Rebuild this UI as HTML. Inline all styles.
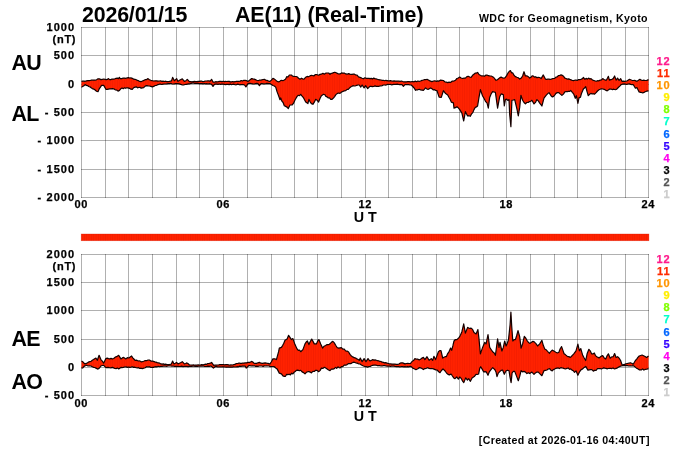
<!DOCTYPE html>
<html lang="en">
<head>
<meta charset="utf-8">
<title>AE(11) (Real-Time) 2026/01/15</title>
<style>
html,body{margin:0;padding:0;background:#fff;}
body{width:700px;height:450px;overflow:hidden;}
svg{display:block;}
text{font-family:"Liberation Sans",Arial,Helvetica,sans-serif;font-weight:bold;fill:#000;}
.big{font-size:21.4px;}
.lab{letter-spacing:-0.8px;}
.ax{font-size:11px;letter-spacing:0.9px;stroke:#000;stroke-width:0.25px;}
.ay{font-size:11px;letter-spacing:1.1px;stroke:#000;stroke-width:0.25px;}
.nt{font-size:11px;letter-spacing:0.7px;stroke:#000;stroke-width:0.25px;}
.sm{font-size:10.6px;letter-spacing:0.42px;}
.ut{font-size:14.3px;}
.g{stroke:#000;stroke-opacity:0.31;stroke-width:1;shape-rendering:crispEdges;fill:none;}
.f{fill:#ff2200;stroke:none;}
.c{fill:none;stroke:#140000;stroke-width:1.2;stroke-linejoin:round;}
</style>
</head>
<body>
<svg width="700" height="450" viewBox="0 0 700 450">
<defs><pattern id="st" patternUnits="userSpaceOnUse" x="81.5" y="0" width="2.3625" height="450"><rect x="0" y="0" width="0.7" height="450" fill="#a00000" fill-opacity="0.13"/></pattern></defs>
<rect width="700" height="450" fill="#fff"/>

<path class="g" d="M81.5 27 V198M105.5 27 V198M128.5 27 V198M152.5 27 V198M176.5 27 V198M199.5 27 V198M223.5 27 V198M247.5 27 V198M271.5 27 V198M294.5 27 V198M317.5 27 V198M341.5 27 V198M365.5 27 V198M388.5 27 V198M412.5 27 V198M436.5 27 V198M459.5 27 V198M483.5 27 V198M506.5 27 V198M530.5 27 V198M554.5 27 V198M577.5 27 V198M601.5 27 V198M625.5 27 V198M648.5 27 V198"/>
<path class="g" d="M81 27.5 H649M81 55.5 H649M81 84.5 H649M81 112.5 H649M81 140.5 H649M81 169.5 H649M81 197.5 H649"/>
<path class="g" d="M81.5 254 V396M105.5 254 V396M128.5 254 V396M152.5 254 V396M176.5 254 V396M199.5 254 V396M223.5 254 V396M247.5 254 V396M271.5 254 V396M294.5 254 V396M317.5 254 V396M341.5 254 V396M365.5 254 V396M388.5 254 V396M412.5 254 V396M436.5 254 V396M459.5 254 V396M483.5 254 V396M506.5 254 V396M530.5 254 V396M554.5 254 V396M577.5 254 V396M601.5 254 V396M625.5 254 V396M648.5 254 V396"/>
<path class="g" d="M81 254.5 H649M81 282.5 H649M81 310.5 H649M81 339.5 H649M81 367.5 H649M81 395.5 H649"/>
<path class="f" d="M81.5 81.4 L82.8 81.2 L84 81.2 L85.2 81.3 L86.5 80.8 L87.8 80.7 L89 80.6 L90.3 80.5 L91.5 80 L92.8 80.2 L94.1 80.1 L95.3 80.2 L96.6 79.7 L98 78.8 L99.4 78.9 L101 79.6 L102.4 79.3 L103.7 79 L105.1 79.3 L106.2 79.6 L107.4 79.4 L108.5 78.6 L109.7 79.6 L110.8 79.6 L112 79 L113.3 79.1 L114.6 79 L116 78.3 L117.3 78.1 L118.6 78.6 L119.4 77.3 L120.3 78.7 L121.7 78.6 L123.2 78 L124.6 78.1 L126 78.3 L127.2 77.9 L128.4 77.6 L129.7 78 L130.9 77.9 L132.3 78.3 L133.6 79.2 L135 79.3 L136.2 79.8 L137.4 80.4 L138.5 80.7 L139.7 81.4 L140.9 81.7 L142.4 81 L144 80.4 L145.3 79.6 L146.7 79.6 L148 78.6 L149.4 79.8 L150.9 80.3 L152.3 80.7 L153.7 81 L155.2 80.8 L156.6 80.8 L158 81.1 L159.3 81 L160.5 80.9 L161.8 81.4 L163.1 81.2 L164.3 81.5 L165.6 81.2 L166.9 81.6 L168.1 81.6 L169.4 81.4 L171.5 80.9 L172.6 77.4 L174.4 80.7 L176.6 78.6 L178 81.4 L179.4 80.2 L180.9 79.5 L182.3 78.9 L184.4 81.4 L185.9 80.7 L187.3 79.3 L189.4 81.7 L190.7 81.6 L191.9 81.9 L193.2 81.5 L194.4 81.3 L195.7 81.6 L196.9 81.6 L198.2 81.3 L199.4 81.4 L200.6 81.1 L201.8 81.2 L203 81.6 L204.2 81.4 L205.3 81 L206.5 81 L207.7 80.9 L208.9 80.9 L210.1 81.1 L211.6 79.3 L213 82.1 L214.3 82.2 L215.6 81.7 L216.9 81.8 L218.3 81.6 L219.6 81.3 L220.9 81.4 L222.1 81.6 L223.3 81.2 L224.4 81.6 L225.6 81.3 L226.8 81.5 L228 81.4 L229.2 81.4 L230.4 81.9 L231.6 81.8 L232.7 81.5 L233.9 81.9 L235.1 81.7 L236.3 81.3 L237.6 81.3 L238.8 81.4 L240.1 81.1 L241.3 80.5 L242.6 81 L243.8 80.3 L245.1 80.3 L246.6 80.7 L248 81.4 L249.2 80.6 L250.4 79.4 L251.6 78.6 L252.9 78.9 L254.2 79.1 L255.4 79.6 L256.7 80.3 L258 80.7 L259.3 80.2 L260.6 80.2 L261.8 79.8 L263.1 79.5 L264.4 79.3 L265.6 80.1 L266.9 80.3 L268.1 80.9 L269.4 81.4 L270 81.4 L271.4 80.1 L272.9 78.3 L274.3 79 L275.7 80.1 L277.1 81.4 L278.3 81.8 L279.4 81.6 L280.6 80.6 L281.7 80.3 L282.9 80.7 L284.2 80 L285.5 79.2 L286.7 76.7 L288 77 L289.3 75 L291.4 75 L292.6 76.2 L293.8 76.3 L295 76.5 L296.2 76.5 L297.4 77 L298.6 78.3 L300 79.2 L301.5 78.2 L302.9 79.1 L304.3 78.9 L305.7 77.2 L307.1 76.4 L308.3 76.8 L309.4 76.3 L310.6 75.6 L311.7 75.3 L312.9 75.7 L314.1 75.9 L315.3 74.5 L316.4 74.5 L317.6 74.9 L318.8 75.2 L320 74.3 L321.4 74.2 L322.9 73.3 L324.3 74.2 L325.7 73.1 L327.1 73 L328.6 73 L330 74.3 L331.2 73.3 L332.4 73.1 L333.6 72.6 L334.9 72.2 L336.1 72.7 L337.4 73.4 L338.6 74 L340 73.9 L341.5 72.9 L342.9 73.1 L344.3 73.1 L345.7 73.9 L347.2 74.2 L348.6 73.6 L349.8 74.1 L351 74.3 L352.1 74.4 L353.3 74.1 L354.5 74.2 L355.7 75 L357.1 75.2 L358.5 76.9 L360 77.4 L361.4 77.9 L362 78.3 L363.4 78.8 L364.9 77.8 L366.3 78.4 L367.7 78.3 L368.9 78.3 L370.1 78.6 L371.3 78.3 L372.5 79 L373.7 78.1 L374.9 78.6 L376.1 78.9 L377.3 79.3 L378.5 79.7 L379.8 79.8 L381 80 L382.2 80.3 L383.4 80.3 L384.6 80.7 L385.8 80.3 L387 80.6 L388.2 80.9 L389.4 80.9 L390.5 80.6 L391.7 81 L392.9 81.1 L394.1 80.9 L395.3 81.1 L396.5 81 L397.7 81.1 L398.9 81.2 L400.2 81.3 L401.4 81 L402.7 81.5 L403.9 81.8 L405.2 81.8 L406.4 81.8 L407.7 81.7 L409 81.6 L410.2 81.8 L411.5 81.7 L412.8 81.5 L414 81.8 L415.3 81.1 L416.6 81.7 L417.8 81 L419.1 81.4 L420.5 81 L422 80.4 L423.4 80 L424.6 79.5 L425.8 79.7 L427 79.3 L428.2 79.9 L429.4 80.6 L430.6 81.1 L432 81.6 L433.5 81 L434.9 80.8 L436.3 81.4 L437.7 80.9 L439.1 81.1 L440.6 80.1 L442 80.3 L443.4 80.5 L444.9 81.9 L446.3 82.2 L447.7 82.6 L449.1 82.1 L450.5 82.5 L452 81.2 L453.4 81.1 L454 81 L455.4 80.3 L456.9 78.5 L458.3 78 L459.7 77.1 L461.1 78 L462.6 78.5 L464 78.1 L465.4 78.2 L466.9 76.7 L468.3 76.3 L469.7 77 L471.1 77.4 L472.6 75.3 L473.9 74.2 L475.1 73.2 L476.4 73.1 L477.6 72.4 L479 74.5 L480.4 75.3 L481.7 76 L483 75.8 L484.4 76.3 L485.7 75.2 L487 75 L488.3 75.7 L489.7 75.9 L491.2 76 L492.6 76.7 L493.8 77.5 L494.9 79 L496.1 80.3 L497.4 79.7 L498.6 78.7 L499.9 77.6 L501.1 77.1 L502.5 77.8 L504 78.2 L505.4 77.4 L506.6 75.6 L507.9 73.2 L509.1 71.5 L510.4 70.6 L511.6 72.8 L512.8 72.9 L514 75.3 L515.4 76.6 L516.9 77.3 L518.3 77.8 L519.7 79.1 L521.2 78.1 L522.6 76 L524 71.7 L525.4 76 L526.8 75.8 L528.3 76.7 L529.7 78.1 L530.9 77.3 L532.1 75.8 L533.3 76 L534.5 77.2 L535.7 76.7 L536.9 77.7 L538.3 77.4 L539.7 77.5 L541.1 78.6 L543.3 74.9 L545.4 79.1 L546.6 79.3 L547.8 79.1 L549 79.2 L550 79.3 L551.2 79.1 L552.4 78.7 L553.5 78.5 L554.7 78.3 L555.9 77.1 L557.2 76.8 L558.5 75.5 L559.8 75.4 L561.1 74.9 L562.4 75.4 L563.6 76.3 L564.9 78.1 L566.1 78.5 L567.4 79.2 L568.6 78.9 L569.8 79.4 L571.1 79.9 L572.3 80.5 L573.5 80.6 L574.8 80.2 L576 80.2 L577.2 80.4 L578.5 79.6 L579.7 79.6 L580.9 79.4 L582.2 78.8 L583.4 77.5 L584.9 79.3 L586.1 78.4 L587.4 79.1 L588.6 78.1 L589.8 79 L591 78.6 L592.2 79.7 L593.4 80.4 L594.6 80.8 L596.1 81.3 L597.5 80.7 L599 80.8 L600.2 80.1 L601.5 79.8 L602.7 78.6 L604 79.4 L605.2 80.1 L606.5 80.1 L608.4 76.3 L609.4 80.1 L610.7 79.6 L611.9 79.3 L613.2 78.6 L614.6 76 L616.1 80.1 L617.6 78.1 L619.1 80.5 L620.6 78.6 L622.1 81.5 L623.4 81.1 L624.7 81.3 L626 81.2 L627.3 80.8 L629.5 79.3 L630.7 79.8 L632 80.3 L633.2 80.5 L634.7 80.3 L636.2 81.1 L637.7 80.8 L639.9 79.3 L641.2 80.2 L642.5 80.5 L643.8 80.2 L645.1 80.5 L646.8 80.4 L648.5 79.6 L648.5 90.9 L646.6 91.2 L645.1 91.8 L643.6 92.7 L642.1 92.8 L640.6 92.3 L639.1 91.9 L636.9 87.5 L635.4 88.2 L633.2 84.5 L631.9 84.7 L630.7 84.4 L629.4 83.9 L628.1 84 L626.8 84.3 L625.6 84.1 L624.3 83.8 L622.8 84.1 L621.3 84.5 L619.8 86.1 L618.3 87.5 L616.8 89.1 L615.4 89.7 L613.9 89.2 L612.4 89.6 L610.9 89 L609.7 89.1 L608.4 89.9 L607.2 90.9 L605.7 90.3 L604.2 89.3 L602.7 89 L601.5 88.8 L600.2 89.3 L599 89.7 L597.5 91 L596.1 92.7 L594.6 94.2 L593.4 93.7 L592.1 94 L590.9 93.4 L589.6 94.3 L588.3 95.7 L587.1 91.9 L585.7 86.7 L584.5 88 L583.4 89 L581.5 93.4 L580.5 97.1 L579 97.9 L577.9 103.4 L576.4 95.7 L575.3 98.3 L573.8 94.2 L572.3 92.4 L570.8 90.5 L569.6 91.4 L568.4 91.3 L567.3 91.6 L566.1 91.5 L564.9 91.9 L563.4 94.1 L561.9 95.4 L560.4 94.1 L558.9 92.7 L557.4 92.6 L555.9 93.4 L554.7 95.1 L553.6 96.4 L552.4 97 L551 95.7 L549 92.6 L547.5 93.9 L546.1 95.3 L544 98.1 L541.9 106 L539.7 103.1 L538.3 100.9 L536.9 99.6 L535.5 102.4 L534 103.9 L531.9 100.3 L530.7 101.2 L529.5 101.6 L528.3 102.4 L526.8 102.5 L525.4 103.9 L524 102.5 L522.6 100.3 L520.9 95.3 L519.7 107.4 L518.3 116 L516.9 108.9 L514.7 99.6 L513.3 100 L511.9 100.3 L510.9 126.7 L509.7 114.6 L509 99.6 L507.8 100.4 L506.6 99.1 L505.4 99.6 L504.3 106 L503.3 94.6 L501.1 93.9 L499.7 96.7 L497.6 108.1 L495.4 92.4 L494 92 L492.6 91.7 L491.1 94 L489.7 97.4 L488.3 108.1 L487.1 103.1 L485.7 101.7 L484.1 98.5 L482.6 96 L480.4 89.6 L479 97.4 L477.6 106 L476.4 106.9 L475.2 107.5 L474 109.6 L472.8 112.6 L471.6 113.8 L470.4 116.3 L469 115.7 L467.6 116 L465.4 111.7 L463.7 121 L461.9 113.1 L459.7 109.6 L458.3 107.9 L456.9 106.7 L455.4 107.7 L454 108.1 L453.4 102.9 L451.3 102.1 L450.1 99.2 L448.9 97.3 L447.7 95 L445.6 93.6 L443.4 90.7 L441.3 97.4 L439.1 97.1 L437 90.7 L435.8 90.5 L434.6 89.7 L433.4 90 L432 88.8 L430.6 87.9 L428.4 89.3 L427 89.1 L425.6 87.9 L423.4 90.3 L422 90.1 L420.5 89.9 L419.1 89.3 L417.9 89.8 L416.8 89.8 L415.6 90.3 L414.2 88.2 L412.7 86.5 L411.3 85 L410 85 L408.7 84.7 L407.5 84.7 L406.2 84.5 L404.9 84.6 L403.4 86.4 L402 84.6 L400.8 84.5 L399.6 84.6 L398.4 84.5 L397.3 84.1 L396.1 84.4 L394.9 84.3 L393.8 84.4 L392.6 84.6 L391.4 84.8 L390.3 84.4 L389.1 84.5 L388 84.4 L386.8 84.7 L385.7 85.1 L384.5 85 L383.4 85 L382.2 85.6 L381 85.8 L379.9 86 L378.7 86.3 L377.5 86.4 L376.3 86.4 L375 85.9 L373.7 86.5 L372.5 86.6 L371.2 86.3 L369.9 86.4 L367.7 88.6 L365.6 85.7 L364.1 87.9 L362.1 85 L360.7 87.1 L359.3 85 L358 85 L356.7 85.4 L355.5 85.8 L354.2 86 L352.9 85.7 L351.7 86.5 L350.6 87 L349.4 88.2 L348.3 89.3 L347.1 89.3 L345.7 90.7 L344.2 90.9 L342.8 91.5 L341.4 92.1 L340 93.4 L338.5 93 L337.1 93.6 L335.9 94.6 L334.8 96.3 L333.6 97.9 L332.1 99.3 L330.7 99.3 L329.5 97.8 L328.3 98 L327.1 96.9 L325.9 96.4 L324.8 94.7 L323.6 94.3 L321.4 95.7 L320 98.5 L318.6 102.1 L317.1 100.2 L315.7 99.3 L314.3 102.2 L312.9 104.3 L311.4 103.6 L310.1 101.8 L308.9 99.3 L307.9 103.6 L305.7 102.1 L303.6 97.9 L302.1 96.1 L300.7 94.3 L299.5 95.7 L298.3 95.3 L297.1 96.4 L295 100 L293.6 103.2 L292.1 105 L290 105 L288.3 108.6 L287 107.1 L285.7 106.4 L284.3 105.7 L283.1 102.5 L281.9 101.2 L280.7 97.9 L280 99.7 L278.6 95.7 L277.1 91.9 L275.7 87.1 L274.3 86 L272.9 85.5 L271.4 84.5 L270 83.6 L269.4 83.6 L268.2 83.6 L267 83.4 L265.8 83.7 L264.5 83.8 L263.3 83.8 L262.1 83.5 L260.9 83.6 L259.4 85.7 L258 83.6 L256.8 83.3 L255.5 83.6 L254.2 84 L253 84 L251.8 83.7 L250.5 83.3 L249.2 83.3 L248 83.6 L245.9 86.9 L244.5 85 L243.3 84.7 L242.1 84.6 L240.9 84.6 L239.7 84.8 L238.6 84.4 L237.4 84.2 L236.2 84.8 L235 84.6 L233.9 84.2 L232.7 84.3 L231.5 84.7 L230.3 84.1 L229.2 84.6 L228 84.3 L226.8 84.3 L225.5 84.6 L224.3 84.3 L223.1 84.2 L221.8 84.1 L220.6 84.3 L219.3 84 L218.1 84.4 L216.9 84.2 L215.6 84.2 L214.4 84.3 L213 86.4 L211.6 84.3 L210.5 84 L209.3 83.7 L208 84 L206.8 83.7 L205.6 83.9 L204.3 83.5 L203.1 83.9 L201.9 83.6 L200.6 83.6 L199.4 83.6 L198.2 83.4 L197 83.4 L195.9 83.3 L194.7 83.4 L193.5 82.9 L192.3 83.1 L191.1 83.4 L189.8 83.8 L188.6 83.9 L187.4 84.1 L186.2 84.3 L184.9 84.5 L183.7 85 L182.3 84.8 L180.8 84.4 L179.4 83.9 L178 83.6 L176.8 83.5 L175.5 83.7 L174.3 83.9 L173.1 84 L171.9 83.8 L170.6 83.3 L169.4 83.6 L168.1 83.6 L166.9 83.8 L165.6 84 L164.3 84 L163.1 84.1 L161.8 84.5 L160.5 84.2 L159.3 84.2 L158 84.6 L156.6 85.3 L155.2 85.5 L153.7 86.4 L152.3 86.9 L150.9 86.4 L149.4 86 L148 85.9 L146.6 85.7 L145.2 86.1 L143.7 87.6 L142.3 87.9 L141.1 88.2 L139.9 87.3 L138.7 87.5 L137.5 87.8 L136.3 86.8 L135.1 87.1 L133.7 87.7 L132.3 89.3 L130.9 89.2 L129.4 88.3 L128 87.9 L126.8 87.8 L125.6 88.3 L124.5 87.8 L123.3 88.7 L122.1 88 L120.9 88.6 L119.5 90.4 L118 91.1 L116.6 90 L115.2 89.8 L113.7 88.8 L112.3 88.6 L111 88.9 L109.7 88.9 L108.5 89.1 L107.2 89.4 L105.9 89.3 L103.7 85.4 L101.6 85.4 L99.4 88.6 L98 91.7 L96.5 91.2 L95.1 90 L93.7 89.1 L92.3 88.6 L91.1 87.8 L89.9 86.8 L88.7 86.5 L87.5 85.6 L86.3 85.4 L85.1 84.6 L83.9 85.7 L82.7 86.4 L81.5 87.4Z"/>
<path d="M81.5 81.4 L82.8 81.2 L84 81.2 L85.2 81.3 L86.5 80.8 L87.8 80.7 L89 80.6 L90.3 80.5 L91.5 80 L92.8 80.2 L94.1 80.1 L95.3 80.2 L96.6 79.7 L98 78.8 L99.4 78.9 L101 79.6 L102.4 79.3 L103.7 79 L105.1 79.3 L106.2 79.6 L107.4 79.4 L108.5 78.6 L109.7 79.6 L110.8 79.6 L112 79 L113.3 79.1 L114.6 79 L116 78.3 L117.3 78.1 L118.6 78.6 L119.4 77.3 L120.3 78.7 L121.7 78.6 L123.2 78 L124.6 78.1 L126 78.3 L127.2 77.9 L128.4 77.6 L129.7 78 L130.9 77.9 L132.3 78.3 L133.6 79.2 L135 79.3 L136.2 79.8 L137.4 80.4 L138.5 80.7 L139.7 81.4 L140.9 81.7 L142.4 81 L144 80.4 L145.3 79.6 L146.7 79.6 L148 78.6 L149.4 79.8 L150.9 80.3 L152.3 80.7 L153.7 81 L155.2 80.8 L156.6 80.8 L158 81.1 L159.3 81 L160.5 80.9 L161.8 81.4 L163.1 81.2 L164.3 81.5 L165.6 81.2 L166.9 81.6 L168.1 81.6 L169.4 81.4 L171.5 80.9 L172.6 77.4 L174.4 80.7 L176.6 78.6 L178 81.4 L179.4 80.2 L180.9 79.5 L182.3 78.9 L184.4 81.4 L185.9 80.7 L187.3 79.3 L189.4 81.7 L190.7 81.6 L191.9 81.9 L193.2 81.5 L194.4 81.3 L195.7 81.6 L196.9 81.6 L198.2 81.3 L199.4 81.4 L200.6 81.1 L201.8 81.2 L203 81.6 L204.2 81.4 L205.3 81 L206.5 81 L207.7 80.9 L208.9 80.9 L210.1 81.1 L211.6 79.3 L213 82.1 L214.3 82.2 L215.6 81.7 L216.9 81.8 L218.3 81.6 L219.6 81.3 L220.9 81.4 L222.1 81.6 L223.3 81.2 L224.4 81.6 L225.6 81.3 L226.8 81.5 L228 81.4 L229.2 81.4 L230.4 81.9 L231.6 81.8 L232.7 81.5 L233.9 81.9 L235.1 81.7 L236.3 81.3 L237.6 81.3 L238.8 81.4 L240.1 81.1 L241.3 80.5 L242.6 81 L243.8 80.3 L245.1 80.3 L246.6 80.7 L248 81.4 L249.2 80.6 L250.4 79.4 L251.6 78.6 L252.9 78.9 L254.2 79.1 L255.4 79.6 L256.7 80.3 L258 80.7 L259.3 80.2 L260.6 80.2 L261.8 79.8 L263.1 79.5 L264.4 79.3 L265.6 80.1 L266.9 80.3 L268.1 80.9 L269.4 81.4 L270 81.4 L271.4 80.1 L272.9 78.3 L274.3 79 L275.7 80.1 L277.1 81.4 L278.3 81.8 L279.4 81.6 L280.6 80.6 L281.7 80.3 L282.9 80.7 L284.2 80 L285.5 79.2 L286.7 76.7 L288 77 L289.3 75 L291.4 75 L292.6 76.2 L293.8 76.3 L295 76.5 L296.2 76.5 L297.4 77 L298.6 78.3 L300 79.2 L301.5 78.2 L302.9 79.1 L304.3 78.9 L305.7 77.2 L307.1 76.4 L308.3 76.8 L309.4 76.3 L310.6 75.6 L311.7 75.3 L312.9 75.7 L314.1 75.9 L315.3 74.5 L316.4 74.5 L317.6 74.9 L318.8 75.2 L320 74.3 L321.4 74.2 L322.9 73.3 L324.3 74.2 L325.7 73.1 L327.1 73 L328.6 73 L330 74.3 L331.2 73.3 L332.4 73.1 L333.6 72.6 L334.9 72.2 L336.1 72.7 L337.4 73.4 L338.6 74 L340 73.9 L341.5 72.9 L342.9 73.1 L344.3 73.1 L345.7 73.9 L347.2 74.2 L348.6 73.6 L349.8 74.1 L351 74.3 L352.1 74.4 L353.3 74.1 L354.5 74.2 L355.7 75 L357.1 75.2 L358.5 76.9 L360 77.4 L361.4 77.9 L362 78.3 L363.4 78.8 L364.9 77.8 L366.3 78.4 L367.7 78.3 L368.9 78.3 L370.1 78.6 L371.3 78.3 L372.5 79 L373.7 78.1 L374.9 78.6 L376.1 78.9 L377.3 79.3 L378.5 79.7 L379.8 79.8 L381 80 L382.2 80.3 L383.4 80.3 L384.6 80.7 L385.8 80.3 L387 80.6 L388.2 80.9 L389.4 80.9 L390.5 80.6 L391.7 81 L392.9 81.1 L394.1 80.9 L395.3 81.1 L396.5 81 L397.7 81.1 L398.9 81.2 L400.2 81.3 L401.4 81 L402.7 81.5 L403.9 81.8 L405.2 81.8 L406.4 81.8 L407.7 81.7 L409 81.6 L410.2 81.8 L411.5 81.7 L412.8 81.5 L414 81.8 L415.3 81.1 L416.6 81.7 L417.8 81 L419.1 81.4 L420.5 81 L422 80.4 L423.4 80 L424.6 79.5 L425.8 79.7 L427 79.3 L428.2 79.9 L429.4 80.6 L430.6 81.1 L432 81.6 L433.5 81 L434.9 80.8 L436.3 81.4 L437.7 80.9 L439.1 81.1 L440.6 80.1 L442 80.3 L443.4 80.5 L444.9 81.9 L446.3 82.2 L447.7 82.6 L449.1 82.1 L450.5 82.5 L452 81.2 L453.4 81.1 L454 81 L455.4 80.3 L456.9 78.5 L458.3 78 L459.7 77.1 L461.1 78 L462.6 78.5 L464 78.1 L465.4 78.2 L466.9 76.7 L468.3 76.3 L469.7 77 L471.1 77.4 L472.6 75.3 L473.9 74.2 L475.1 73.2 L476.4 73.1 L477.6 72.4 L479 74.5 L480.4 75.3 L481.7 76 L483 75.8 L484.4 76.3 L485.7 75.2 L487 75 L488.3 75.7 L489.7 75.9 L491.2 76 L492.6 76.7 L493.8 77.5 L494.9 79 L496.1 80.3 L497.4 79.7 L498.6 78.7 L499.9 77.6 L501.1 77.1 L502.5 77.8 L504 78.2 L505.4 77.4 L506.6 75.6 L507.9 73.2 L509.1 71.5 L510.4 70.6 L511.6 72.8 L512.8 72.9 L514 75.3 L515.4 76.6 L516.9 77.3 L518.3 77.8 L519.7 79.1 L521.2 78.1 L522.6 76 L524 71.7 L525.4 76 L526.8 75.8 L528.3 76.7 L529.7 78.1 L530.9 77.3 L532.1 75.8 L533.3 76 L534.5 77.2 L535.7 76.7 L536.9 77.7 L538.3 77.4 L539.7 77.5 L541.1 78.6 L543.3 74.9 L545.4 79.1 L546.6 79.3 L547.8 79.1 L549 79.2 L550 79.3 L551.2 79.1 L552.4 78.7 L553.5 78.5 L554.7 78.3 L555.9 77.1 L557.2 76.8 L558.5 75.5 L559.8 75.4 L561.1 74.9 L562.4 75.4 L563.6 76.3 L564.9 78.1 L566.1 78.5 L567.4 79.2 L568.6 78.9 L569.8 79.4 L571.1 79.9 L572.3 80.5 L573.5 80.6 L574.8 80.2 L576 80.2 L577.2 80.4 L578.5 79.6 L579.7 79.6 L580.9 79.4 L582.2 78.8 L583.4 77.5 L584.9 79.3 L586.1 78.4 L587.4 79.1 L588.6 78.1 L589.8 79 L591 78.6 L592.2 79.7 L593.4 80.4 L594.6 80.8 L596.1 81.3 L597.5 80.7 L599 80.8 L600.2 80.1 L601.5 79.8 L602.7 78.6 L604 79.4 L605.2 80.1 L606.5 80.1 L608.4 76.3 L609.4 80.1 L610.7 79.6 L611.9 79.3 L613.2 78.6 L614.6 76 L616.1 80.1 L617.6 78.1 L619.1 80.5 L620.6 78.6 L622.1 81.5 L623.4 81.1 L624.7 81.3 L626 81.2 L627.3 80.8 L629.5 79.3 L630.7 79.8 L632 80.3 L633.2 80.5 L634.7 80.3 L636.2 81.1 L637.7 80.8 L639.9 79.3 L641.2 80.2 L642.5 80.5 L643.8 80.2 L645.1 80.5 L646.8 80.4 L648.5 79.6 L648.5 90.9 L646.6 91.2 L645.1 91.8 L643.6 92.7 L642.1 92.8 L640.6 92.3 L639.1 91.9 L636.9 87.5 L635.4 88.2 L633.2 84.5 L631.9 84.7 L630.7 84.4 L629.4 83.9 L628.1 84 L626.8 84.3 L625.6 84.1 L624.3 83.8 L622.8 84.1 L621.3 84.5 L619.8 86.1 L618.3 87.5 L616.8 89.1 L615.4 89.7 L613.9 89.2 L612.4 89.6 L610.9 89 L609.7 89.1 L608.4 89.9 L607.2 90.9 L605.7 90.3 L604.2 89.3 L602.7 89 L601.5 88.8 L600.2 89.3 L599 89.7 L597.5 91 L596.1 92.7 L594.6 94.2 L593.4 93.7 L592.1 94 L590.9 93.4 L589.6 94.3 L588.3 95.7 L587.1 91.9 L585.7 86.7 L584.5 88 L583.4 89 L581.5 93.4 L580.5 97.1 L579 97.9 L577.9 103.4 L576.4 95.7 L575.3 98.3 L573.8 94.2 L572.3 92.4 L570.8 90.5 L569.6 91.4 L568.4 91.3 L567.3 91.6 L566.1 91.5 L564.9 91.9 L563.4 94.1 L561.9 95.4 L560.4 94.1 L558.9 92.7 L557.4 92.6 L555.9 93.4 L554.7 95.1 L553.6 96.4 L552.4 97 L551 95.7 L549 92.6 L547.5 93.9 L546.1 95.3 L544 98.1 L541.9 106 L539.7 103.1 L538.3 100.9 L536.9 99.6 L535.5 102.4 L534 103.9 L531.9 100.3 L530.7 101.2 L529.5 101.6 L528.3 102.4 L526.8 102.5 L525.4 103.9 L524 102.5 L522.6 100.3 L520.9 95.3 L519.7 107.4 L518.3 116 L516.9 108.9 L514.7 99.6 L513.3 100 L511.9 100.3 L510.9 126.7 L509.7 114.6 L509 99.6 L507.8 100.4 L506.6 99.1 L505.4 99.6 L504.3 106 L503.3 94.6 L501.1 93.9 L499.7 96.7 L497.6 108.1 L495.4 92.4 L494 92 L492.6 91.7 L491.1 94 L489.7 97.4 L488.3 108.1 L487.1 103.1 L485.7 101.7 L484.1 98.5 L482.6 96 L480.4 89.6 L479 97.4 L477.6 106 L476.4 106.9 L475.2 107.5 L474 109.6 L472.8 112.6 L471.6 113.8 L470.4 116.3 L469 115.7 L467.6 116 L465.4 111.7 L463.7 121 L461.9 113.1 L459.7 109.6 L458.3 107.9 L456.9 106.7 L455.4 107.7 L454 108.1 L453.4 102.9 L451.3 102.1 L450.1 99.2 L448.9 97.3 L447.7 95 L445.6 93.6 L443.4 90.7 L441.3 97.4 L439.1 97.1 L437 90.7 L435.8 90.5 L434.6 89.7 L433.4 90 L432 88.8 L430.6 87.9 L428.4 89.3 L427 89.1 L425.6 87.9 L423.4 90.3 L422 90.1 L420.5 89.9 L419.1 89.3 L417.9 89.8 L416.8 89.8 L415.6 90.3 L414.2 88.2 L412.7 86.5 L411.3 85 L410 85 L408.7 84.7 L407.5 84.7 L406.2 84.5 L404.9 84.6 L403.4 86.4 L402 84.6 L400.8 84.5 L399.6 84.6 L398.4 84.5 L397.3 84.1 L396.1 84.4 L394.9 84.3 L393.8 84.4 L392.6 84.6 L391.4 84.8 L390.3 84.4 L389.1 84.5 L388 84.4 L386.8 84.7 L385.7 85.1 L384.5 85 L383.4 85 L382.2 85.6 L381 85.8 L379.9 86 L378.7 86.3 L377.5 86.4 L376.3 86.4 L375 85.9 L373.7 86.5 L372.5 86.6 L371.2 86.3 L369.9 86.4 L367.7 88.6 L365.6 85.7 L364.1 87.9 L362.1 85 L360.7 87.1 L359.3 85 L358 85 L356.7 85.4 L355.5 85.8 L354.2 86 L352.9 85.7 L351.7 86.5 L350.6 87 L349.4 88.2 L348.3 89.3 L347.1 89.3 L345.7 90.7 L344.2 90.9 L342.8 91.5 L341.4 92.1 L340 93.4 L338.5 93 L337.1 93.6 L335.9 94.6 L334.8 96.3 L333.6 97.9 L332.1 99.3 L330.7 99.3 L329.5 97.8 L328.3 98 L327.1 96.9 L325.9 96.4 L324.8 94.7 L323.6 94.3 L321.4 95.7 L320 98.5 L318.6 102.1 L317.1 100.2 L315.7 99.3 L314.3 102.2 L312.9 104.3 L311.4 103.6 L310.1 101.8 L308.9 99.3 L307.9 103.6 L305.7 102.1 L303.6 97.9 L302.1 96.1 L300.7 94.3 L299.5 95.7 L298.3 95.3 L297.1 96.4 L295 100 L293.6 103.2 L292.1 105 L290 105 L288.3 108.6 L287 107.1 L285.7 106.4 L284.3 105.7 L283.1 102.5 L281.9 101.2 L280.7 97.9 L280 99.7 L278.6 95.7 L277.1 91.9 L275.7 87.1 L274.3 86 L272.9 85.5 L271.4 84.5 L270 83.6 L269.4 83.6 L268.2 83.6 L267 83.4 L265.8 83.7 L264.5 83.8 L263.3 83.8 L262.1 83.5 L260.9 83.6 L259.4 85.7 L258 83.6 L256.8 83.3 L255.5 83.6 L254.2 84 L253 84 L251.8 83.7 L250.5 83.3 L249.2 83.3 L248 83.6 L245.9 86.9 L244.5 85 L243.3 84.7 L242.1 84.6 L240.9 84.6 L239.7 84.8 L238.6 84.4 L237.4 84.2 L236.2 84.8 L235 84.6 L233.9 84.2 L232.7 84.3 L231.5 84.7 L230.3 84.1 L229.2 84.6 L228 84.3 L226.8 84.3 L225.5 84.6 L224.3 84.3 L223.1 84.2 L221.8 84.1 L220.6 84.3 L219.3 84 L218.1 84.4 L216.9 84.2 L215.6 84.2 L214.4 84.3 L213 86.4 L211.6 84.3 L210.5 84 L209.3 83.7 L208 84 L206.8 83.7 L205.6 83.9 L204.3 83.5 L203.1 83.9 L201.9 83.6 L200.6 83.6 L199.4 83.6 L198.2 83.4 L197 83.4 L195.9 83.3 L194.7 83.4 L193.5 82.9 L192.3 83.1 L191.1 83.4 L189.8 83.8 L188.6 83.9 L187.4 84.1 L186.2 84.3 L184.9 84.5 L183.7 85 L182.3 84.8 L180.8 84.4 L179.4 83.9 L178 83.6 L176.8 83.5 L175.5 83.7 L174.3 83.9 L173.1 84 L171.9 83.8 L170.6 83.3 L169.4 83.6 L168.1 83.6 L166.9 83.8 L165.6 84 L164.3 84 L163.1 84.1 L161.8 84.5 L160.5 84.2 L159.3 84.2 L158 84.6 L156.6 85.3 L155.2 85.5 L153.7 86.4 L152.3 86.9 L150.9 86.4 L149.4 86 L148 85.9 L146.6 85.7 L145.2 86.1 L143.7 87.6 L142.3 87.9 L141.1 88.2 L139.9 87.3 L138.7 87.5 L137.5 87.8 L136.3 86.8 L135.1 87.1 L133.7 87.7 L132.3 89.3 L130.9 89.2 L129.4 88.3 L128 87.9 L126.8 87.8 L125.6 88.3 L124.5 87.8 L123.3 88.7 L122.1 88 L120.9 88.6 L119.5 90.4 L118 91.1 L116.6 90 L115.2 89.8 L113.7 88.8 L112.3 88.6 L111 88.9 L109.7 88.9 L108.5 89.1 L107.2 89.4 L105.9 89.3 L103.7 85.4 L101.6 85.4 L99.4 88.6 L98 91.7 L96.5 91.2 L95.1 90 L93.7 89.1 L92.3 88.6 L91.1 87.8 L89.9 86.8 L88.7 86.5 L87.5 85.6 L86.3 85.4 L85.1 84.6 L83.9 85.7 L82.7 86.4 L81.5 87.4Z" fill="url(#st)"/>
<path class="c" d="M81.5 81.4 L82.8 81.2 L84 81.2 L85.2 81.3 L86.5 80.8 L87.8 80.7 L89 80.6 L90.3 80.5 L91.5 80 L92.8 80.2 L94.1 80.1 L95.3 80.2 L96.6 79.7 L98 78.8 L99.4 78.9 L101 79.6 L102.4 79.3 L103.7 79 L105.1 79.3 L106.2 79.6 L107.4 79.4 L108.5 78.6 L109.7 79.6 L110.8 79.6 L112 79 L113.3 79.1 L114.6 79 L116 78.3 L117.3 78.1 L118.6 78.6 L119.4 77.3 L120.3 78.7 L121.7 78.6 L123.2 78 L124.6 78.1 L126 78.3 L127.2 77.9 L128.4 77.6 L129.7 78 L130.9 77.9 L132.3 78.3 L133.6 79.2 L135 79.3 L136.2 79.8 L137.4 80.4 L138.5 80.7 L139.7 81.4 L140.9 81.7 L142.4 81 L144 80.4 L145.3 79.6 L146.7 79.6 L148 78.6 L149.4 79.8 L150.9 80.3 L152.3 80.7 L153.7 81 L155.2 80.8 L156.6 80.8 L158 81.1 L159.3 81 L160.5 80.9 L161.8 81.4 L163.1 81.2 L164.3 81.5 L165.6 81.2 L166.9 81.6 L168.1 81.6 L169.4 81.4 L171.5 80.9 L172.6 77.4 L174.4 80.7 L176.6 78.6 L178 81.4 L179.4 80.2 L180.9 79.5 L182.3 78.9 L184.4 81.4 L185.9 80.7 L187.3 79.3 L189.4 81.7 L190.7 81.6 L191.9 81.9 L193.2 81.5 L194.4 81.3 L195.7 81.6 L196.9 81.6 L198.2 81.3 L199.4 81.4 L200.6 81.1 L201.8 81.2 L203 81.6 L204.2 81.4 L205.3 81 L206.5 81 L207.7 80.9 L208.9 80.9 L210.1 81.1 L211.6 79.3 L213 82.1 L214.3 82.2 L215.6 81.7 L216.9 81.8 L218.3 81.6 L219.6 81.3 L220.9 81.4 L222.1 81.6 L223.3 81.2 L224.4 81.6 L225.6 81.3 L226.8 81.5 L228 81.4 L229.2 81.4 L230.4 81.9 L231.6 81.8 L232.7 81.5 L233.9 81.9 L235.1 81.7 L236.3 81.3 L237.6 81.3 L238.8 81.4 L240.1 81.1 L241.3 80.5 L242.6 81 L243.8 80.3 L245.1 80.3 L246.6 80.7 L248 81.4 L249.2 80.6 L250.4 79.4 L251.6 78.6 L252.9 78.9 L254.2 79.1 L255.4 79.6 L256.7 80.3 L258 80.7 L259.3 80.2 L260.6 80.2 L261.8 79.8 L263.1 79.5 L264.4 79.3 L265.6 80.1 L266.9 80.3 L268.1 80.9 L269.4 81.4 L270 81.4 L271.4 80.1 L272.9 78.3 L274.3 79 L275.7 80.1 L277.1 81.4 L278.3 81.8 L279.4 81.6 L280.6 80.6 L281.7 80.3 L282.9 80.7 L284.2 80 L285.5 79.2 L286.7 76.7 L288 77 L289.3 75 L291.4 75 L292.6 76.2 L293.8 76.3 L295 76.5 L296.2 76.5 L297.4 77 L298.6 78.3 L300 79.2 L301.5 78.2 L302.9 79.1 L304.3 78.9 L305.7 77.2 L307.1 76.4 L308.3 76.8 L309.4 76.3 L310.6 75.6 L311.7 75.3 L312.9 75.7 L314.1 75.9 L315.3 74.5 L316.4 74.5 L317.6 74.9 L318.8 75.2 L320 74.3 L321.4 74.2 L322.9 73.3 L324.3 74.2 L325.7 73.1 L327.1 73 L328.6 73 L330 74.3 L331.2 73.3 L332.4 73.1 L333.6 72.6 L334.9 72.2 L336.1 72.7 L337.4 73.4 L338.6 74 L340 73.9 L341.5 72.9 L342.9 73.1 L344.3 73.1 L345.7 73.9 L347.2 74.2 L348.6 73.6 L349.8 74.1 L351 74.3 L352.1 74.4 L353.3 74.1 L354.5 74.2 L355.7 75 L357.1 75.2 L358.5 76.9 L360 77.4 L361.4 77.9 L362 78.3 L363.4 78.8 L364.9 77.8 L366.3 78.4 L367.7 78.3 L368.9 78.3 L370.1 78.6 L371.3 78.3 L372.5 79 L373.7 78.1 L374.9 78.6 L376.1 78.9 L377.3 79.3 L378.5 79.7 L379.8 79.8 L381 80 L382.2 80.3 L383.4 80.3 L384.6 80.7 L385.8 80.3 L387 80.6 L388.2 80.9 L389.4 80.9 L390.5 80.6 L391.7 81 L392.9 81.1 L394.1 80.9 L395.3 81.1 L396.5 81 L397.7 81.1 L398.9 81.2 L400.2 81.3 L401.4 81 L402.7 81.5 L403.9 81.8 L405.2 81.8 L406.4 81.8 L407.7 81.7 L409 81.6 L410.2 81.8 L411.5 81.7 L412.8 81.5 L414 81.8 L415.3 81.1 L416.6 81.7 L417.8 81 L419.1 81.4 L420.5 81 L422 80.4 L423.4 80 L424.6 79.5 L425.8 79.7 L427 79.3 L428.2 79.9 L429.4 80.6 L430.6 81.1 L432 81.6 L433.5 81 L434.9 80.8 L436.3 81.4 L437.7 80.9 L439.1 81.1 L440.6 80.1 L442 80.3 L443.4 80.5 L444.9 81.9 L446.3 82.2 L447.7 82.6 L449.1 82.1 L450.5 82.5 L452 81.2 L453.4 81.1 L454 81 L455.4 80.3 L456.9 78.5 L458.3 78 L459.7 77.1 L461.1 78 L462.6 78.5 L464 78.1 L465.4 78.2 L466.9 76.7 L468.3 76.3 L469.7 77 L471.1 77.4 L472.6 75.3 L473.9 74.2 L475.1 73.2 L476.4 73.1 L477.6 72.4 L479 74.5 L480.4 75.3 L481.7 76 L483 75.8 L484.4 76.3 L485.7 75.2 L487 75 L488.3 75.7 L489.7 75.9 L491.2 76 L492.6 76.7 L493.8 77.5 L494.9 79 L496.1 80.3 L497.4 79.7 L498.6 78.7 L499.9 77.6 L501.1 77.1 L502.5 77.8 L504 78.2 L505.4 77.4 L506.6 75.6 L507.9 73.2 L509.1 71.5 L510.4 70.6 L511.6 72.8 L512.8 72.9 L514 75.3 L515.4 76.6 L516.9 77.3 L518.3 77.8 L519.7 79.1 L521.2 78.1 L522.6 76 L524 71.7 L525.4 76 L526.8 75.8 L528.3 76.7 L529.7 78.1 L530.9 77.3 L532.1 75.8 L533.3 76 L534.5 77.2 L535.7 76.7 L536.9 77.7 L538.3 77.4 L539.7 77.5 L541.1 78.6 L543.3 74.9 L545.4 79.1 L546.6 79.3 L547.8 79.1 L549 79.2 L550 79.3 L551.2 79.1 L552.4 78.7 L553.5 78.5 L554.7 78.3 L555.9 77.1 L557.2 76.8 L558.5 75.5 L559.8 75.4 L561.1 74.9 L562.4 75.4 L563.6 76.3 L564.9 78.1 L566.1 78.5 L567.4 79.2 L568.6 78.9 L569.8 79.4 L571.1 79.9 L572.3 80.5 L573.5 80.6 L574.8 80.2 L576 80.2 L577.2 80.4 L578.5 79.6 L579.7 79.6 L580.9 79.4 L582.2 78.8 L583.4 77.5 L584.9 79.3 L586.1 78.4 L587.4 79.1 L588.6 78.1 L589.8 79 L591 78.6 L592.2 79.7 L593.4 80.4 L594.6 80.8 L596.1 81.3 L597.5 80.7 L599 80.8 L600.2 80.1 L601.5 79.8 L602.7 78.6 L604 79.4 L605.2 80.1 L606.5 80.1 L608.4 76.3 L609.4 80.1 L610.7 79.6 L611.9 79.3 L613.2 78.6 L614.6 76 L616.1 80.1 L617.6 78.1 L619.1 80.5 L620.6 78.6 L622.1 81.5 L623.4 81.1 L624.7 81.3 L626 81.2 L627.3 80.8 L629.5 79.3 L630.7 79.8 L632 80.3 L633.2 80.5 L634.7 80.3 L636.2 81.1 L637.7 80.8 L639.9 79.3 L641.2 80.2 L642.5 80.5 L643.8 80.2 L645.1 80.5 L646.8 80.4 L648.5 79.6"/>
<path class="c" d="M81.5 87.4 L82.7 86.4 L83.9 85.7 L85.1 84.6 L86.3 85.4 L87.5 85.6 L88.7 86.5 L89.9 86.8 L91.1 87.8 L92.3 88.6 L93.7 89.1 L95.1 90 L96.5 91.2 L98 91.7 L99.4 88.6 L101.6 85.4 L103.7 85.4 L105.9 89.3 L107.2 89.4 L108.5 89.1 L109.7 88.9 L111 88.9 L112.3 88.6 L113.7 88.8 L115.2 89.8 L116.6 90 L118 91.1 L119.5 90.4 L120.9 88.6 L122.1 88 L123.3 88.7 L124.5 87.8 L125.6 88.3 L126.8 87.8 L128 87.9 L129.4 88.3 L130.9 89.2 L132.3 89.3 L133.7 87.7 L135.1 87.1 L136.3 86.8 L137.5 87.8 L138.7 87.5 L139.9 87.3 L141.1 88.2 L142.3 87.9 L143.7 87.6 L145.2 86.1 L146.6 85.7 L148 85.9 L149.4 86 L150.9 86.4 L152.3 86.9 L153.7 86.4 L155.2 85.5 L156.6 85.3 L158 84.6 L159.3 84.2 L160.5 84.2 L161.8 84.5 L163.1 84.1 L164.3 84 L165.6 84 L166.9 83.8 L168.1 83.6 L169.4 83.6 L170.6 83.3 L171.9 83.8 L173.1 84 L174.3 83.9 L175.5 83.7 L176.8 83.5 L178 83.6 L179.4 83.9 L180.8 84.4 L182.3 84.8 L183.7 85 L184.9 84.5 L186.2 84.3 L187.4 84.1 L188.6 83.9 L189.8 83.8 L191.1 83.4 L192.3 83.1 L193.5 82.9 L194.7 83.4 L195.9 83.3 L197 83.4 L198.2 83.4 L199.4 83.6 L200.6 83.6 L201.9 83.6 L203.1 83.9 L204.3 83.5 L205.6 83.9 L206.8 83.7 L208 84 L209.3 83.7 L210.5 84 L211.6 84.3 L213 86.4 L214.4 84.3 L215.6 84.2 L216.9 84.2 L218.1 84.4 L219.3 84 L220.6 84.3 L221.8 84.1 L223.1 84.2 L224.3 84.3 L225.5 84.6 L226.8 84.3 L228 84.3 L229.2 84.6 L230.3 84.1 L231.5 84.7 L232.7 84.3 L233.9 84.2 L235 84.6 L236.2 84.8 L237.4 84.2 L238.6 84.4 L239.7 84.8 L240.9 84.6 L242.1 84.6 L243.3 84.7 L244.5 85 L245.9 86.9 L248 83.6 L249.2 83.3 L250.5 83.3 L251.8 83.7 L253 84 L254.2 84 L255.5 83.6 L256.8 83.3 L258 83.6 L259.4 85.7 L260.9 83.6 L262.1 83.5 L263.3 83.8 L264.5 83.8 L265.8 83.7 L267 83.4 L268.2 83.6 L269.4 83.6 L270 83.6 L271.4 84.5 L272.9 85.5 L274.3 86 L275.7 87.1 L277.1 91.9 L278.6 95.7 L280 99.7 L280.7 97.9 L281.9 101.2 L283.1 102.5 L284.3 105.7 L285.7 106.4 L287 107.1 L288.3 108.6 L290 105 L292.1 105 L293.6 103.2 L295 100 L297.1 96.4 L298.3 95.3 L299.5 95.7 L300.7 94.3 L302.1 96.1 L303.6 97.9 L305.7 102.1 L307.9 103.6 L308.9 99.3 L310.1 101.8 L311.4 103.6 L312.9 104.3 L314.3 102.2 L315.7 99.3 L317.1 100.2 L318.6 102.1 L320 98.5 L321.4 95.7 L323.6 94.3 L324.8 94.7 L325.9 96.4 L327.1 96.9 L328.3 98 L329.5 97.8 L330.7 99.3 L332.1 99.3 L333.6 97.9 L334.8 96.3 L335.9 94.6 L337.1 93.6 L338.5 93 L340 93.4 L341.4 92.1 L342.8 91.5 L344.2 90.9 L345.7 90.7 L347.1 89.3 L348.3 89.3 L349.4 88.2 L350.6 87 L351.7 86.5 L352.9 85.7 L354.2 86 L355.5 85.8 L356.7 85.4 L358 85 L359.3 85 L360.7 87.1 L362.1 85 L364.1 87.9 L365.6 85.7 L367.7 88.6 L369.9 86.4 L371.2 86.3 L372.5 86.6 L373.7 86.5 L375 85.9 L376.3 86.4 L377.5 86.4 L378.7 86.3 L379.9 86 L381 85.8 L382.2 85.6 L383.4 85 L384.5 85 L385.7 85.1 L386.8 84.7 L388 84.4 L389.1 84.5 L390.3 84.4 L391.4 84.8 L392.6 84.6 L393.8 84.4 L394.9 84.3 L396.1 84.4 L397.3 84.1 L398.4 84.5 L399.6 84.6 L400.8 84.5 L402 84.6 L403.4 86.4 L404.9 84.6 L406.2 84.5 L407.5 84.7 L408.7 84.7 L410 85 L411.3 85 L412.7 86.5 L414.2 88.2 L415.6 90.3 L416.8 89.8 L417.9 89.8 L419.1 89.3 L420.5 89.9 L422 90.1 L423.4 90.3 L425.6 87.9 L427 89.1 L428.4 89.3 L430.6 87.9 L432 88.8 L433.4 90 L434.6 89.7 L435.8 90.5 L437 90.7 L439.1 97.1 L441.3 97.4 L443.4 90.7 L445.6 93.6 L447.7 95 L448.9 97.3 L450.1 99.2 L451.3 102.1 L453.4 102.9 L454 108.1 L455.4 107.7 L456.9 106.7 L458.3 107.9 L459.7 109.6 L461.9 113.1 L463.7 121 L465.4 111.7 L467.6 116 L469 115.7 L470.4 116.3 L471.6 113.8 L472.8 112.6 L474 109.6 L475.2 107.5 L476.4 106.9 L477.6 106 L479 97.4 L480.4 89.6 L482.6 96 L484.1 98.5 L485.7 101.7 L487.1 103.1 L488.3 108.1 L489.7 97.4 L491.1 94 L492.6 91.7 L494 92 L495.4 92.4 L497.6 108.1 L499.7 96.7 L501.1 93.9 L503.3 94.6 L504.3 106 L505.4 99.6 L506.6 99.1 L507.8 100.4 L509 99.6 L509.7 114.6 L510.9 126.7 L511.9 100.3 L513.3 100 L514.7 99.6 L516.9 108.9 L518.3 116 L519.7 107.4 L520.9 95.3 L522.6 100.3 L524 102.5 L525.4 103.9 L526.8 102.5 L528.3 102.4 L529.5 101.6 L530.7 101.2 L531.9 100.3 L534 103.9 L535.5 102.4 L536.9 99.6 L538.3 100.9 L539.7 103.1 L541.9 106 L544 98.1 L546.1 95.3 L547.5 93.9 L549 92.6 L551 95.7 L552.4 97 L553.6 96.4 L554.7 95.1 L555.9 93.4 L557.4 92.6 L558.9 92.7 L560.4 94.1 L561.9 95.4 L563.4 94.1 L564.9 91.9 L566.1 91.5 L567.3 91.6 L568.4 91.3 L569.6 91.4 L570.8 90.5 L572.3 92.4 L573.8 94.2 L575.3 98.3 L576.4 95.7 L577.9 103.4 L579 97.9 L580.5 97.1 L581.5 93.4 L583.4 89 L584.5 88 L585.7 86.7 L587.1 91.9 L588.3 95.7 L589.6 94.3 L590.9 93.4 L592.1 94 L593.4 93.7 L594.6 94.2 L596.1 92.7 L597.5 91 L599 89.7 L600.2 89.3 L601.5 88.8 L602.7 89 L604.2 89.3 L605.7 90.3 L607.2 90.9 L608.4 89.9 L609.7 89.1 L610.9 89 L612.4 89.6 L613.9 89.2 L615.4 89.7 L616.8 89.1 L618.3 87.5 L619.8 86.1 L621.3 84.5 L622.8 84.1 L624.3 83.8 L625.6 84.1 L626.8 84.3 L628.1 84 L629.4 83.9 L630.7 84.4 L631.9 84.7 L633.2 84.5 L635.4 88.2 L636.9 87.5 L639.1 91.9 L640.6 92.3 L642.1 92.8 L643.6 92.7 L645.1 91.8 L646.6 91.2 L648.5 90.9"/>
<path class="f" d="M81.5 361 L82.7 361.7 L83.9 363.1 L85.1 363.9 L86.3 363.4 L87.5 362.7 L88.7 361.9 L89.9 361.7 L91.1 361.2 L92.3 360.3 L93.5 359.6 L94.7 358.8 L95.9 358.1 L97.3 360.3 L99.1 355.3 L100.9 359.6 L102.3 361.2 L103.7 363.1 L105.9 358.6 L107.2 358.1 L108.5 358.6 L109.7 358.9 L111 358.4 L112.3 358.9 L113.7 358.5 L115.2 357.1 L116.6 356.7 L118.7 355.3 L120.9 358.9 L122.3 357.9 L123.7 357.4 L125.9 358.9 L127.3 357.7 L128.8 358 L130.2 357 L131.6 356 L132.8 357.8 L133.9 359 L135.1 360.3 L136.3 360.1 L137.5 360.6 L138.7 361 L139.9 360.9 L141.1 361.9 L142.3 361.7 L143.7 361.2 L145.2 360.5 L146.6 360.7 L148 360 L149.4 360 L150.9 361.1 L152.3 361 L153.5 361.4 L154.8 361.9 L156 362.1 L157.2 362.6 L158.4 362.9 L159.7 363.2 L160.9 363.9 L162.1 364.2 L163.3 363.9 L164.5 364.4 L165.8 364.1 L167 364.7 L168.2 364.7 L169.4 364.6 L171.4 364 L172.6 361 L174 363.9 L175.3 363.3 L176.6 362.4 L178 363.9 L179.4 363.3 L180.9 362.5 L182.3 361.7 L184.4 363.9 L185.7 363.5 L186.9 362.9 L188.2 363.7 L189.4 365 L190.7 365 L191.9 365.2 L193.2 364.8 L194.4 365.2 L195.7 365.2 L196.9 365 L198.2 364.9 L199.4 365 L200.6 364.9 L201.8 364.7 L203 364.9 L204.2 364.5 L205.4 364.1 L206.6 364.3 L207.8 363.6 L209.1 363.5 L210.3 363.2 L211.6 362.4 L213.7 365.3 L214.9 365.2 L216.1 365.1 L217.3 365 L218.5 365 L219.7 364.6 L220.9 364.6 L222.2 364.7 L223.4 364.7 L224.7 364.8 L226 364.6 L227.2 364.6 L228.5 364.8 L229.8 365.2 L231 364.9 L232.3 365 L233.7 364.7 L235.2 364.1 L236.6 363.5 L238 363.4 L239.2 363 L240.4 363.4 L241.6 363.3 L242.7 363 L243.9 363.1 L245.1 362.9 L246.6 362.8 L248 362.4 L249.2 362.3 L250.4 362.1 L251.6 361.4 L252.8 362 L253.9 363.1 L255.1 363.4 L256.5 363.4 L258 362.8 L259.4 362.4 L260.9 363.2 L262.3 363.4 L263.7 363.1 L265.1 362.9 L266.6 363.2 L268 363.4 L269.5 363.9 L270 363.9 L271.4 361.7 L272.9 358.9 L274.1 358.8 L275.2 358.9 L276.4 359.6 L278.6 351.7 L279.3 348.1 L281.4 347.4 L282.6 345.6 L283.8 343.2 L285 340.3 L287.1 338.9 L288.6 335.3 L290 337.4 L291.4 339.6 L292.9 338.6 L295 344.6 L297.1 348.9 L298.3 350.4 L299.5 350 L300.7 351.7 L302.9 349.6 L305 343.9 L306.2 342 L307.4 341 L308.9 344.6 L310.3 341.5 L311.7 339.1 L313 341.4 L314.3 343.9 L316.4 343.9 L317.6 341.2 L318.9 339.6 L320.7 343.9 L322.6 348.1 L324.1 346.2 L325.6 345.5 L327.1 344.6 L328.3 344.7 L329.4 344.2 L330.6 343.1 L331.7 342 L332.9 341.4 L334.3 342.9 L335.7 345.3 L337.1 347.5 L338.6 348.1 L340 347.9 L341.4 347.7 L342.8 349.2 L344.3 349.2 L345.7 351 L347.1 351.1 L348.6 352 L350 354.4 L351.4 356 L352.8 356.9 L354.3 357.7 L355.7 358.1 L356.9 358.9 L358.1 359.5 L359.3 360.3 L360.3 358.1 L362.1 361.7 L364.1 358.6 L366 361.7 L368 358.6 L369.9 361 L371.3 360.4 L372.7 359.6 L373.9 360.1 L375.1 359.9 L376.3 360.3 L377.5 360.7 L378.7 360.8 L379.9 361.5 L381 361.4 L382.2 362.2 L383.4 362.4 L384.6 362.9 L385.8 362.6 L387 363.2 L388.2 363.5 L389.4 363.9 L390.6 363.9 L392 364.1 L393.5 364 L394.9 364.1 L396.3 364.3 L397.6 364.3 L398.9 364 L400.1 363.2 L401.4 362.9 L402.7 362.9 L404.9 363.9 L406.3 363.5 L407.8 363.3 L409.2 363.5 L410.6 363.4 L412 361.5 L413.5 360.6 L414.9 358.6 L416.3 359.2 L417.7 359.1 L419.1 360 L420.5 359.2 L422 358.1 L423.4 357.4 L424.9 359.6 L427 356.7 L429.1 360.3 L431.3 358.6 L432.7 360.3 L433.9 356.3 L435.6 359.6 L437 355.6 L438.4 351.7 L439.7 350.6 L441 350.6 L442.7 358.1 L443.9 357.2 L445.1 356.7 L446.3 356.7 L447.7 353.6 L449.2 351.3 L450.6 348.1 L451.7 350.3 L452.9 345.7 L454 341 L455.4 339.5 L456.9 339.6 L458.1 338.5 L459.2 337.4 L460.4 335.3 L461.9 331.7 L463.7 323.9 L465.4 333.1 L467.6 327.4 L468.8 328.1 L469.9 328.4 L471.1 328.1 L472.6 329.4 L474 332.4 L476.1 333.9 L477.9 329.6 L479 338.9 L480.4 353.9 L482.6 347.4 L484.7 342.4 L486.1 343.9 L488 334.6 L489.7 347.4 L491.1 349.5 L492.6 351.7 L494 352.8 L495.4 355.3 L497.6 338.9 L499 347.4 L500 342.4 L501.9 351 L503.3 347.4 L504.7 341 L506.1 346 L507.3 343.3 L508.5 339.6 L510.1 324.6 L510.9 312 L511.7 326 L512.8 341 L514.1 339.7 L515.4 339.6 L516.7 335.5 L518 330.6 L519.7 336.7 L521.1 348.1 L522.6 343.9 L524.3 336.3 L525.6 337.9 L526.9 340.3 L528.3 342.2 L529.7 343.4 L531.1 342.5 L532.6 341.4 L534 341.7 L535.2 342.9 L536.4 344.2 L537.6 346 L539.7 343.9 L541.9 340.3 L543.3 345.3 L544.7 348.9 L546.2 349.8 L547.6 351.4 L549.5 353.4 L550 352.3 L552.2 350.1 L553.4 350.8 L554.7 351.6 L555.9 352.3 L557.4 353 L558.9 352.3 L560.2 348.8 L561.6 346.6 L562.9 350.4 L564.1 353.8 L565.3 354.6 L566.5 355.6 L567.7 356.6 L568.9 356.5 L570.1 357.5 L571.3 356.5 L572.6 355.1 L573.8 353.8 L576 350.8 L577.9 344.1 L579.4 350.8 L580.8 348.6 L582.7 355.3 L584.2 358 L585.7 360.5 L587.1 353.8 L588.9 349.3 L590.2 350.8 L591.6 353.8 L593 353.9 L594.3 353 L595.5 355.6 L596.8 356.7 L599 357.9 L600.2 357 L601.5 356.1 L602.7 355.6 L604.2 357.9 L605.7 359 L607 355.9 L608.4 353.8 L610.2 358.2 L611.7 356.9 L613.2 356.7 L614.6 353.5 L616.1 357.5 L617.6 356.7 L619.1 358.2 L620.6 360.5 L622.1 364.9 L623.3 364.7 L624.6 364.4 L625.8 363.9 L627.3 363.5 L628.7 363.2 L630.2 362.7 L631.7 363.2 L633.2 364.2 L635.4 360.5 L636.7 359.2 L637.9 357.4 L639.2 356 L640.7 355.5 L642.1 355 L643.6 355.7 L645.1 356.5 L646.6 357.5 L648.5 356 L648.5 368.6 L646.8 369.1 L645.1 369.4 L643.9 370.1 L642.7 368.9 L641.6 369.8 L640.4 369.9 L639.2 369.8 L637.7 368.8 L636.2 367.9 L634.7 366.6 L633.2 365.7 L631.7 366 L630.3 365.9 L628.8 366 L627.6 365.7 L626.4 365.6 L625.2 365.5 L624 365.6 L622.8 365.7 L621.3 366 L619.8 366.4 L618.3 367.3 L616.9 368.2 L615.4 368.6 L614.2 368.8 L613 367.9 L611.8 368.6 L610.6 368.3 L609.4 368.3 L608.2 368.5 L607.1 368.9 L605.9 368.3 L604.8 368.2 L603.6 367.9 L602.5 368.5 L601.3 368.9 L600.2 368.5 L599 368.6 L597.5 368.7 L596.1 370.3 L594.6 370.4 L593.3 371.1 L591.9 369.6 L590.6 369.6 L589.2 369.8 L587.9 370.1 L585.7 366.4 L584.2 367.4 L582.7 368.9 L581.2 369.6 L579.7 371.6 L577.9 375.3 L576 370.8 L574.5 372.3 L573.3 370.7 L572 370.1 L570.8 368.9 L569.5 369.3 L568.3 368 L567 368.3 L565.7 369 L564.4 368.7 L563.2 368.1 L561.9 367.9 L560.7 367.6 L559.5 368.6 L558.3 367.9 L557.1 368.1 L555.9 368.3 L554.7 369.1 L553.4 369.5 L552.2 370.9 L551 370.3 L549.7 368.6 L548.3 369 L546.9 370 L545.5 370.3 L544 370.7 L541.9 375.7 L539.7 373.6 L538.3 372.1 L536.9 372.1 L535.5 372.9 L534 374.3 L531.9 372.1 L529.7 373.6 L528.3 372.7 L526.9 373.6 L525.5 372.1 L524 371.4 L522.5 371.8 L521.1 370.7 L519.7 376.4 L518.3 380.7 L516.9 377.1 L514.7 371.4 L513.4 371.4 L512.1 372.9 L511.1 382.6 L510 377.1 L509 370.7 L507.6 370.2 L506.1 370.7 L504.3 374.3 L502.6 370 L501.3 370.3 L500 371.4 L498.3 373.1 L497 376.6 L496.1 372.3 L494.9 369.7 L492.7 367.6 L490.6 370.1 L489.3 371.9 L488 375.3 L486.3 371.9 L485 371.6 L483.7 371.9 L482 368.9 L480.7 366.7 L479.8 368.4 L478.6 374 L477.3 374.5 L476 374.4 L474.3 376.6 L472.1 377.9 L470.4 381.3 L468.7 378.7 L467.4 380 L465.7 377.9 L463.8 382.6 L462.6 381.2 L461.4 378.7 L459.7 377 L458.4 379.1 L456.7 377 L455 378.7 L453.7 377.9 L452.4 376 L451.1 374 L449.4 374.9 L448 374.4 L446.5 373 L445.1 371 L443 368.9 L441.5 370.5 L440 372.7 L439 372 L437 370 L435.8 369.9 L434.6 369.4 L433.4 368.9 L432 368.5 L430.5 368.7 L429.1 368.4 L427.7 367.7 L426.3 368.3 L424.8 368.6 L423.4 369.6 L422 368.5 L420.5 367.9 L419.1 367.7 L417.9 368.7 L416.8 369.3 L415.6 369.6 L414.2 368.8 L412.7 368.1 L411.3 366.7 L410 366.4 L408.7 366.9 L407.5 366.7 L406.2 366.8 L404.9 366.7 L403.7 366.9 L402.4 366.7 L401.2 366.5 L400 367 L398.8 366.7 L397.5 366.5 L396.3 366.7 L395.1 366.5 L394 366.2 L392.8 366.2 L391.6 366.2 L390.4 366.3 L389.3 366.1 L388.1 366.2 L386.9 366.2 L385.7 365.8 L384.6 365.6 L383.4 365.7 L382.2 366 L381 365.8 L379.8 365.7 L378.6 365.5 L377.5 365.7 L376.3 365.2 L375.1 365.2 L373.9 365.1 L372.7 365.3 L371.4 365.8 L370.2 366.5 L368.9 366.5 L367.7 367.1 L366.3 366.7 L364.9 366.5 L363.4 366 L362 365.3 L361.4 364.9 L360 364 L358.5 363.8 L357.1 363.1 L355.7 362.8 L354.3 362.2 L352.9 362.4 L351.7 363.1 L350.6 363.7 L349.4 363.5 L348.3 363.7 L347.1 364.6 L345.7 365.2 L344.2 365.2 L342.8 366.7 L341.4 366.7 L340.2 367.9 L339 367.6 L337.9 366.8 L336.7 368.4 L335.5 367.4 L334.3 368.6 L332.9 369.2 L331.4 369.1 L330 370.6 L328.6 370 L327.1 368.9 L325.7 368.1 L324.3 367.3 L322.8 368.4 L321.4 368.1 L320 370.6 L318.6 371.7 L317.1 370.4 L315.7 370.3 L314.3 371.5 L312.8 371.3 L311.4 372.9 L310.2 372.1 L309.1 371.6 L307.9 371.7 L306.4 372.3 L305 373.9 L303.6 372.6 L302.1 371.9 L300.7 370.3 L299.3 370.8 L297.8 370.1 L296.4 370.3 L295.2 371.5 L294.1 372.2 L292.9 373.9 L291.6 373.2 L290.4 374.9 L289.1 374.2 L287.9 374.6 L286.7 374.3 L285.5 376.3 L284.3 376.3 L282.9 375.9 L281.4 373.9 L279.3 373.1 L277.1 368.9 L275.7 368 L274.3 366.7 L272.9 366.5 L271.4 366.5 L270 366.7 L269.4 366 L268.1 366 L266.9 365.8 L265.6 366 L264.3 365.9 L263.1 366.4 L261.8 366 L260.5 366 L259.3 366 L258 366.3 L256.8 366.1 L255.7 366.4 L254.5 365.8 L253.3 365.8 L252.2 365.9 L251 366 L249.9 365.5 L248.7 365.7 L247.5 366.8 L246.3 368.1 L245.1 366 L243.7 366.2 L242.3 366.2 L240.9 366.3 L239.7 366.1 L238.4 366.8 L237.2 366.7 L236 367 L234.8 367 L233.5 366.9 L232.3 367.1 L231.1 367.2 L229.8 367.2 L228.6 367 L227.4 367.1 L226.2 367.2 L224.9 367 L223.7 366.9 L222.5 366.9 L221.2 367 L220 366.8 L218.8 367 L217.6 366.9 L216.3 366.7 L215.1 366.7 L213.4 368.1 L211.6 366.3 L210.4 366 L209.3 366.4 L208.1 366.1 L206.9 366.4 L205.8 366.5 L204.6 366.3 L203.4 366 L202.3 366.1 L201.1 366.2 L199.9 366.2 L198.7 366.2 L197.6 366.3 L196.4 366.1 L195.2 366.5 L194.1 366.1 L192.9 366.2 L191.7 366.3 L190.6 366.5 L189.4 366.3 L188.1 366.6 L186.9 366.3 L185.6 366.3 L184.3 366.3 L183.1 366.7 L181.8 366.1 L180.5 366.4 L179.3 366.5 L178 366.4 L176.8 366.3 L175.5 366.3 L174.3 366.3 L173.1 366 L171.9 366.2 L170.6 366 L169.4 366 L168.2 365.9 L167 366.3 L165.8 366.2 L164.5 366.1 L163.3 366.2 L162.1 366.3 L160.9 366.3 L159.7 366.7 L158.4 366.3 L157.2 366.8 L156 366.6 L154.8 366.8 L153.5 367.4 L152.3 367.4 L150.9 367.5 L149.4 366.7 L148 367 L146.6 366.7 L145.2 367.7 L143.7 368.2 L142.3 368.6 L141.1 368.2 L139.8 368.5 L138.6 367.7 L137.3 367.8 L136.1 367.6 L134.8 367.2 L133.6 367.4 L132.3 366.7 L131 367.1 L129.8 367.4 L128.5 367 L127.2 367.4 L126 366.8 L124.7 367 L123.4 367.3 L122.2 367.7 L120.9 367.4 L118.7 368.9 L117.4 368 L116.1 368.6 L114.9 368.5 L113.6 367.9 L112.3 367.4 L110.9 367.9 L109.4 367.7 L108 367.4 L106.6 367.7 L105.2 366.9 L103.7 365.3 L102.3 365.5 L100.9 366 L99.5 368 L98 369.1 L95.9 368.1 L94.7 367.5 L93.5 367.3 L92.3 366.7 L90.9 366 L89.4 365.8 L88 366 L86.6 365.3 L85.3 365.7 L84 366.4 L82.8 367.8 L81.5 368.1Z"/>
<path d="M81.5 361 L82.7 361.7 L83.9 363.1 L85.1 363.9 L86.3 363.4 L87.5 362.7 L88.7 361.9 L89.9 361.7 L91.1 361.2 L92.3 360.3 L93.5 359.6 L94.7 358.8 L95.9 358.1 L97.3 360.3 L99.1 355.3 L100.9 359.6 L102.3 361.2 L103.7 363.1 L105.9 358.6 L107.2 358.1 L108.5 358.6 L109.7 358.9 L111 358.4 L112.3 358.9 L113.7 358.5 L115.2 357.1 L116.6 356.7 L118.7 355.3 L120.9 358.9 L122.3 357.9 L123.7 357.4 L125.9 358.9 L127.3 357.7 L128.8 358 L130.2 357 L131.6 356 L132.8 357.8 L133.9 359 L135.1 360.3 L136.3 360.1 L137.5 360.6 L138.7 361 L139.9 360.9 L141.1 361.9 L142.3 361.7 L143.7 361.2 L145.2 360.5 L146.6 360.7 L148 360 L149.4 360 L150.9 361.1 L152.3 361 L153.5 361.4 L154.8 361.9 L156 362.1 L157.2 362.6 L158.4 362.9 L159.7 363.2 L160.9 363.9 L162.1 364.2 L163.3 363.9 L164.5 364.4 L165.8 364.1 L167 364.7 L168.2 364.7 L169.4 364.6 L171.4 364 L172.6 361 L174 363.9 L175.3 363.3 L176.6 362.4 L178 363.9 L179.4 363.3 L180.9 362.5 L182.3 361.7 L184.4 363.9 L185.7 363.5 L186.9 362.9 L188.2 363.7 L189.4 365 L190.7 365 L191.9 365.2 L193.2 364.8 L194.4 365.2 L195.7 365.2 L196.9 365 L198.2 364.9 L199.4 365 L200.6 364.9 L201.8 364.7 L203 364.9 L204.2 364.5 L205.4 364.1 L206.6 364.3 L207.8 363.6 L209.1 363.5 L210.3 363.2 L211.6 362.4 L213.7 365.3 L214.9 365.2 L216.1 365.1 L217.3 365 L218.5 365 L219.7 364.6 L220.9 364.6 L222.2 364.7 L223.4 364.7 L224.7 364.8 L226 364.6 L227.2 364.6 L228.5 364.8 L229.8 365.2 L231 364.9 L232.3 365 L233.7 364.7 L235.2 364.1 L236.6 363.5 L238 363.4 L239.2 363 L240.4 363.4 L241.6 363.3 L242.7 363 L243.9 363.1 L245.1 362.9 L246.6 362.8 L248 362.4 L249.2 362.3 L250.4 362.1 L251.6 361.4 L252.8 362 L253.9 363.1 L255.1 363.4 L256.5 363.4 L258 362.8 L259.4 362.4 L260.9 363.2 L262.3 363.4 L263.7 363.1 L265.1 362.9 L266.6 363.2 L268 363.4 L269.5 363.9 L270 363.9 L271.4 361.7 L272.9 358.9 L274.1 358.8 L275.2 358.9 L276.4 359.6 L278.6 351.7 L279.3 348.1 L281.4 347.4 L282.6 345.6 L283.8 343.2 L285 340.3 L287.1 338.9 L288.6 335.3 L290 337.4 L291.4 339.6 L292.9 338.6 L295 344.6 L297.1 348.9 L298.3 350.4 L299.5 350 L300.7 351.7 L302.9 349.6 L305 343.9 L306.2 342 L307.4 341 L308.9 344.6 L310.3 341.5 L311.7 339.1 L313 341.4 L314.3 343.9 L316.4 343.9 L317.6 341.2 L318.9 339.6 L320.7 343.9 L322.6 348.1 L324.1 346.2 L325.6 345.5 L327.1 344.6 L328.3 344.7 L329.4 344.2 L330.6 343.1 L331.7 342 L332.9 341.4 L334.3 342.9 L335.7 345.3 L337.1 347.5 L338.6 348.1 L340 347.9 L341.4 347.7 L342.8 349.2 L344.3 349.2 L345.7 351 L347.1 351.1 L348.6 352 L350 354.4 L351.4 356 L352.8 356.9 L354.3 357.7 L355.7 358.1 L356.9 358.9 L358.1 359.5 L359.3 360.3 L360.3 358.1 L362.1 361.7 L364.1 358.6 L366 361.7 L368 358.6 L369.9 361 L371.3 360.4 L372.7 359.6 L373.9 360.1 L375.1 359.9 L376.3 360.3 L377.5 360.7 L378.7 360.8 L379.9 361.5 L381 361.4 L382.2 362.2 L383.4 362.4 L384.6 362.9 L385.8 362.6 L387 363.2 L388.2 363.5 L389.4 363.9 L390.6 363.9 L392 364.1 L393.5 364 L394.9 364.1 L396.3 364.3 L397.6 364.3 L398.9 364 L400.1 363.2 L401.4 362.9 L402.7 362.9 L404.9 363.9 L406.3 363.5 L407.8 363.3 L409.2 363.5 L410.6 363.4 L412 361.5 L413.5 360.6 L414.9 358.6 L416.3 359.2 L417.7 359.1 L419.1 360 L420.5 359.2 L422 358.1 L423.4 357.4 L424.9 359.6 L427 356.7 L429.1 360.3 L431.3 358.6 L432.7 360.3 L433.9 356.3 L435.6 359.6 L437 355.6 L438.4 351.7 L439.7 350.6 L441 350.6 L442.7 358.1 L443.9 357.2 L445.1 356.7 L446.3 356.7 L447.7 353.6 L449.2 351.3 L450.6 348.1 L451.7 350.3 L452.9 345.7 L454 341 L455.4 339.5 L456.9 339.6 L458.1 338.5 L459.2 337.4 L460.4 335.3 L461.9 331.7 L463.7 323.9 L465.4 333.1 L467.6 327.4 L468.8 328.1 L469.9 328.4 L471.1 328.1 L472.6 329.4 L474 332.4 L476.1 333.9 L477.9 329.6 L479 338.9 L480.4 353.9 L482.6 347.4 L484.7 342.4 L486.1 343.9 L488 334.6 L489.7 347.4 L491.1 349.5 L492.6 351.7 L494 352.8 L495.4 355.3 L497.6 338.9 L499 347.4 L500 342.4 L501.9 351 L503.3 347.4 L504.7 341 L506.1 346 L507.3 343.3 L508.5 339.6 L510.1 324.6 L510.9 312 L511.7 326 L512.8 341 L514.1 339.7 L515.4 339.6 L516.7 335.5 L518 330.6 L519.7 336.7 L521.1 348.1 L522.6 343.9 L524.3 336.3 L525.6 337.9 L526.9 340.3 L528.3 342.2 L529.7 343.4 L531.1 342.5 L532.6 341.4 L534 341.7 L535.2 342.9 L536.4 344.2 L537.6 346 L539.7 343.9 L541.9 340.3 L543.3 345.3 L544.7 348.9 L546.2 349.8 L547.6 351.4 L549.5 353.4 L550 352.3 L552.2 350.1 L553.4 350.8 L554.7 351.6 L555.9 352.3 L557.4 353 L558.9 352.3 L560.2 348.8 L561.6 346.6 L562.9 350.4 L564.1 353.8 L565.3 354.6 L566.5 355.6 L567.7 356.6 L568.9 356.5 L570.1 357.5 L571.3 356.5 L572.6 355.1 L573.8 353.8 L576 350.8 L577.9 344.1 L579.4 350.8 L580.8 348.6 L582.7 355.3 L584.2 358 L585.7 360.5 L587.1 353.8 L588.9 349.3 L590.2 350.8 L591.6 353.8 L593 353.9 L594.3 353 L595.5 355.6 L596.8 356.7 L599 357.9 L600.2 357 L601.5 356.1 L602.7 355.6 L604.2 357.9 L605.7 359 L607 355.9 L608.4 353.8 L610.2 358.2 L611.7 356.9 L613.2 356.7 L614.6 353.5 L616.1 357.5 L617.6 356.7 L619.1 358.2 L620.6 360.5 L622.1 364.9 L623.3 364.7 L624.6 364.4 L625.8 363.9 L627.3 363.5 L628.7 363.2 L630.2 362.7 L631.7 363.2 L633.2 364.2 L635.4 360.5 L636.7 359.2 L637.9 357.4 L639.2 356 L640.7 355.5 L642.1 355 L643.6 355.7 L645.1 356.5 L646.6 357.5 L648.5 356 L648.5 368.6 L646.8 369.1 L645.1 369.4 L643.9 370.1 L642.7 368.9 L641.6 369.8 L640.4 369.9 L639.2 369.8 L637.7 368.8 L636.2 367.9 L634.7 366.6 L633.2 365.7 L631.7 366 L630.3 365.9 L628.8 366 L627.6 365.7 L626.4 365.6 L625.2 365.5 L624 365.6 L622.8 365.7 L621.3 366 L619.8 366.4 L618.3 367.3 L616.9 368.2 L615.4 368.6 L614.2 368.8 L613 367.9 L611.8 368.6 L610.6 368.3 L609.4 368.3 L608.2 368.5 L607.1 368.9 L605.9 368.3 L604.8 368.2 L603.6 367.9 L602.5 368.5 L601.3 368.9 L600.2 368.5 L599 368.6 L597.5 368.7 L596.1 370.3 L594.6 370.4 L593.3 371.1 L591.9 369.6 L590.6 369.6 L589.2 369.8 L587.9 370.1 L585.7 366.4 L584.2 367.4 L582.7 368.9 L581.2 369.6 L579.7 371.6 L577.9 375.3 L576 370.8 L574.5 372.3 L573.3 370.7 L572 370.1 L570.8 368.9 L569.5 369.3 L568.3 368 L567 368.3 L565.7 369 L564.4 368.7 L563.2 368.1 L561.9 367.9 L560.7 367.6 L559.5 368.6 L558.3 367.9 L557.1 368.1 L555.9 368.3 L554.7 369.1 L553.4 369.5 L552.2 370.9 L551 370.3 L549.7 368.6 L548.3 369 L546.9 370 L545.5 370.3 L544 370.7 L541.9 375.7 L539.7 373.6 L538.3 372.1 L536.9 372.1 L535.5 372.9 L534 374.3 L531.9 372.1 L529.7 373.6 L528.3 372.7 L526.9 373.6 L525.5 372.1 L524 371.4 L522.5 371.8 L521.1 370.7 L519.7 376.4 L518.3 380.7 L516.9 377.1 L514.7 371.4 L513.4 371.4 L512.1 372.9 L511.1 382.6 L510 377.1 L509 370.7 L507.6 370.2 L506.1 370.7 L504.3 374.3 L502.6 370 L501.3 370.3 L500 371.4 L498.3 373.1 L497 376.6 L496.1 372.3 L494.9 369.7 L492.7 367.6 L490.6 370.1 L489.3 371.9 L488 375.3 L486.3 371.9 L485 371.6 L483.7 371.9 L482 368.9 L480.7 366.7 L479.8 368.4 L478.6 374 L477.3 374.5 L476 374.4 L474.3 376.6 L472.1 377.9 L470.4 381.3 L468.7 378.7 L467.4 380 L465.7 377.9 L463.8 382.6 L462.6 381.2 L461.4 378.7 L459.7 377 L458.4 379.1 L456.7 377 L455 378.7 L453.7 377.9 L452.4 376 L451.1 374 L449.4 374.9 L448 374.4 L446.5 373 L445.1 371 L443 368.9 L441.5 370.5 L440 372.7 L439 372 L437 370 L435.8 369.9 L434.6 369.4 L433.4 368.9 L432 368.5 L430.5 368.7 L429.1 368.4 L427.7 367.7 L426.3 368.3 L424.8 368.6 L423.4 369.6 L422 368.5 L420.5 367.9 L419.1 367.7 L417.9 368.7 L416.8 369.3 L415.6 369.6 L414.2 368.8 L412.7 368.1 L411.3 366.7 L410 366.4 L408.7 366.9 L407.5 366.7 L406.2 366.8 L404.9 366.7 L403.7 366.9 L402.4 366.7 L401.2 366.5 L400 367 L398.8 366.7 L397.5 366.5 L396.3 366.7 L395.1 366.5 L394 366.2 L392.8 366.2 L391.6 366.2 L390.4 366.3 L389.3 366.1 L388.1 366.2 L386.9 366.2 L385.7 365.8 L384.6 365.6 L383.4 365.7 L382.2 366 L381 365.8 L379.8 365.7 L378.6 365.5 L377.5 365.7 L376.3 365.2 L375.1 365.2 L373.9 365.1 L372.7 365.3 L371.4 365.8 L370.2 366.5 L368.9 366.5 L367.7 367.1 L366.3 366.7 L364.9 366.5 L363.4 366 L362 365.3 L361.4 364.9 L360 364 L358.5 363.8 L357.1 363.1 L355.7 362.8 L354.3 362.2 L352.9 362.4 L351.7 363.1 L350.6 363.7 L349.4 363.5 L348.3 363.7 L347.1 364.6 L345.7 365.2 L344.2 365.2 L342.8 366.7 L341.4 366.7 L340.2 367.9 L339 367.6 L337.9 366.8 L336.7 368.4 L335.5 367.4 L334.3 368.6 L332.9 369.2 L331.4 369.1 L330 370.6 L328.6 370 L327.1 368.9 L325.7 368.1 L324.3 367.3 L322.8 368.4 L321.4 368.1 L320 370.6 L318.6 371.7 L317.1 370.4 L315.7 370.3 L314.3 371.5 L312.8 371.3 L311.4 372.9 L310.2 372.1 L309.1 371.6 L307.9 371.7 L306.4 372.3 L305 373.9 L303.6 372.6 L302.1 371.9 L300.7 370.3 L299.3 370.8 L297.8 370.1 L296.4 370.3 L295.2 371.5 L294.1 372.2 L292.9 373.9 L291.6 373.2 L290.4 374.9 L289.1 374.2 L287.9 374.6 L286.7 374.3 L285.5 376.3 L284.3 376.3 L282.9 375.9 L281.4 373.9 L279.3 373.1 L277.1 368.9 L275.7 368 L274.3 366.7 L272.9 366.5 L271.4 366.5 L270 366.7 L269.4 366 L268.1 366 L266.9 365.8 L265.6 366 L264.3 365.9 L263.1 366.4 L261.8 366 L260.5 366 L259.3 366 L258 366.3 L256.8 366.1 L255.7 366.4 L254.5 365.8 L253.3 365.8 L252.2 365.9 L251 366 L249.9 365.5 L248.7 365.7 L247.5 366.8 L246.3 368.1 L245.1 366 L243.7 366.2 L242.3 366.2 L240.9 366.3 L239.7 366.1 L238.4 366.8 L237.2 366.7 L236 367 L234.8 367 L233.5 366.9 L232.3 367.1 L231.1 367.2 L229.8 367.2 L228.6 367 L227.4 367.1 L226.2 367.2 L224.9 367 L223.7 366.9 L222.5 366.9 L221.2 367 L220 366.8 L218.8 367 L217.6 366.9 L216.3 366.7 L215.1 366.7 L213.4 368.1 L211.6 366.3 L210.4 366 L209.3 366.4 L208.1 366.1 L206.9 366.4 L205.8 366.5 L204.6 366.3 L203.4 366 L202.3 366.1 L201.1 366.2 L199.9 366.2 L198.7 366.2 L197.6 366.3 L196.4 366.1 L195.2 366.5 L194.1 366.1 L192.9 366.2 L191.7 366.3 L190.6 366.5 L189.4 366.3 L188.1 366.6 L186.9 366.3 L185.6 366.3 L184.3 366.3 L183.1 366.7 L181.8 366.1 L180.5 366.4 L179.3 366.5 L178 366.4 L176.8 366.3 L175.5 366.3 L174.3 366.3 L173.1 366 L171.9 366.2 L170.6 366 L169.4 366 L168.2 365.9 L167 366.3 L165.8 366.2 L164.5 366.1 L163.3 366.2 L162.1 366.3 L160.9 366.3 L159.7 366.7 L158.4 366.3 L157.2 366.8 L156 366.6 L154.8 366.8 L153.5 367.4 L152.3 367.4 L150.9 367.5 L149.4 366.7 L148 367 L146.6 366.7 L145.2 367.7 L143.7 368.2 L142.3 368.6 L141.1 368.2 L139.8 368.5 L138.6 367.7 L137.3 367.8 L136.1 367.6 L134.8 367.2 L133.6 367.4 L132.3 366.7 L131 367.1 L129.8 367.4 L128.5 367 L127.2 367.4 L126 366.8 L124.7 367 L123.4 367.3 L122.2 367.7 L120.9 367.4 L118.7 368.9 L117.4 368 L116.1 368.6 L114.9 368.5 L113.6 367.9 L112.3 367.4 L110.9 367.9 L109.4 367.7 L108 367.4 L106.6 367.7 L105.2 366.9 L103.7 365.3 L102.3 365.5 L100.9 366 L99.5 368 L98 369.1 L95.9 368.1 L94.7 367.5 L93.5 367.3 L92.3 366.7 L90.9 366 L89.4 365.8 L88 366 L86.6 365.3 L85.3 365.7 L84 366.4 L82.8 367.8 L81.5 368.1Z" fill="url(#st)"/>
<path class="c" d="M81.5 361 L82.7 361.7 L83.9 363.1 L85.1 363.9 L86.3 363.4 L87.5 362.7 L88.7 361.9 L89.9 361.7 L91.1 361.2 L92.3 360.3 L93.5 359.6 L94.7 358.8 L95.9 358.1 L97.3 360.3 L99.1 355.3 L100.9 359.6 L102.3 361.2 L103.7 363.1 L105.9 358.6 L107.2 358.1 L108.5 358.6 L109.7 358.9 L111 358.4 L112.3 358.9 L113.7 358.5 L115.2 357.1 L116.6 356.7 L118.7 355.3 L120.9 358.9 L122.3 357.9 L123.7 357.4 L125.9 358.9 L127.3 357.7 L128.8 358 L130.2 357 L131.6 356 L132.8 357.8 L133.9 359 L135.1 360.3 L136.3 360.1 L137.5 360.6 L138.7 361 L139.9 360.9 L141.1 361.9 L142.3 361.7 L143.7 361.2 L145.2 360.5 L146.6 360.7 L148 360 L149.4 360 L150.9 361.1 L152.3 361 L153.5 361.4 L154.8 361.9 L156 362.1 L157.2 362.6 L158.4 362.9 L159.7 363.2 L160.9 363.9 L162.1 364.2 L163.3 363.9 L164.5 364.4 L165.8 364.1 L167 364.7 L168.2 364.7 L169.4 364.6 L171.4 364 L172.6 361 L174 363.9 L175.3 363.3 L176.6 362.4 L178 363.9 L179.4 363.3 L180.9 362.5 L182.3 361.7 L184.4 363.9 L185.7 363.5 L186.9 362.9 L188.2 363.7 L189.4 365 L190.7 365 L191.9 365.2 L193.2 364.8 L194.4 365.2 L195.7 365.2 L196.9 365 L198.2 364.9 L199.4 365 L200.6 364.9 L201.8 364.7 L203 364.9 L204.2 364.5 L205.4 364.1 L206.6 364.3 L207.8 363.6 L209.1 363.5 L210.3 363.2 L211.6 362.4 L213.7 365.3 L214.9 365.2 L216.1 365.1 L217.3 365 L218.5 365 L219.7 364.6 L220.9 364.6 L222.2 364.7 L223.4 364.7 L224.7 364.8 L226 364.6 L227.2 364.6 L228.5 364.8 L229.8 365.2 L231 364.9 L232.3 365 L233.7 364.7 L235.2 364.1 L236.6 363.5 L238 363.4 L239.2 363 L240.4 363.4 L241.6 363.3 L242.7 363 L243.9 363.1 L245.1 362.9 L246.6 362.8 L248 362.4 L249.2 362.3 L250.4 362.1 L251.6 361.4 L252.8 362 L253.9 363.1 L255.1 363.4 L256.5 363.4 L258 362.8 L259.4 362.4 L260.9 363.2 L262.3 363.4 L263.7 363.1 L265.1 362.9 L266.6 363.2 L268 363.4 L269.5 363.9 L270 363.9 L271.4 361.7 L272.9 358.9 L274.1 358.8 L275.2 358.9 L276.4 359.6 L278.6 351.7 L279.3 348.1 L281.4 347.4 L282.6 345.6 L283.8 343.2 L285 340.3 L287.1 338.9 L288.6 335.3 L290 337.4 L291.4 339.6 L292.9 338.6 L295 344.6 L297.1 348.9 L298.3 350.4 L299.5 350 L300.7 351.7 L302.9 349.6 L305 343.9 L306.2 342 L307.4 341 L308.9 344.6 L310.3 341.5 L311.7 339.1 L313 341.4 L314.3 343.9 L316.4 343.9 L317.6 341.2 L318.9 339.6 L320.7 343.9 L322.6 348.1 L324.1 346.2 L325.6 345.5 L327.1 344.6 L328.3 344.7 L329.4 344.2 L330.6 343.1 L331.7 342 L332.9 341.4 L334.3 342.9 L335.7 345.3 L337.1 347.5 L338.6 348.1 L340 347.9 L341.4 347.7 L342.8 349.2 L344.3 349.2 L345.7 351 L347.1 351.1 L348.6 352 L350 354.4 L351.4 356 L352.8 356.9 L354.3 357.7 L355.7 358.1 L356.9 358.9 L358.1 359.5 L359.3 360.3 L360.3 358.1 L362.1 361.7 L364.1 358.6 L366 361.7 L368 358.6 L369.9 361 L371.3 360.4 L372.7 359.6 L373.9 360.1 L375.1 359.9 L376.3 360.3 L377.5 360.7 L378.7 360.8 L379.9 361.5 L381 361.4 L382.2 362.2 L383.4 362.4 L384.6 362.9 L385.8 362.6 L387 363.2 L388.2 363.5 L389.4 363.9 L390.6 363.9 L392 364.1 L393.5 364 L394.9 364.1 L396.3 364.3 L397.6 364.3 L398.9 364 L400.1 363.2 L401.4 362.9 L402.7 362.9 L404.9 363.9 L406.3 363.5 L407.8 363.3 L409.2 363.5 L410.6 363.4 L412 361.5 L413.5 360.6 L414.9 358.6 L416.3 359.2 L417.7 359.1 L419.1 360 L420.5 359.2 L422 358.1 L423.4 357.4 L424.9 359.6 L427 356.7 L429.1 360.3 L431.3 358.6 L432.7 360.3 L433.9 356.3 L435.6 359.6 L437 355.6 L438.4 351.7 L439.7 350.6 L441 350.6 L442.7 358.1 L443.9 357.2 L445.1 356.7 L446.3 356.7 L447.7 353.6 L449.2 351.3 L450.6 348.1 L451.7 350.3 L452.9 345.7 L454 341 L455.4 339.5 L456.9 339.6 L458.1 338.5 L459.2 337.4 L460.4 335.3 L461.9 331.7 L463.7 323.9 L465.4 333.1 L467.6 327.4 L468.8 328.1 L469.9 328.4 L471.1 328.1 L472.6 329.4 L474 332.4 L476.1 333.9 L477.9 329.6 L479 338.9 L480.4 353.9 L482.6 347.4 L484.7 342.4 L486.1 343.9 L488 334.6 L489.7 347.4 L491.1 349.5 L492.6 351.7 L494 352.8 L495.4 355.3 L497.6 338.9 L499 347.4 L500 342.4 L501.9 351 L503.3 347.4 L504.7 341 L506.1 346 L507.3 343.3 L508.5 339.6 L510.1 324.6 L510.9 312 L511.7 326 L512.8 341 L514.1 339.7 L515.4 339.6 L516.7 335.5 L518 330.6 L519.7 336.7 L521.1 348.1 L522.6 343.9 L524.3 336.3 L525.6 337.9 L526.9 340.3 L528.3 342.2 L529.7 343.4 L531.1 342.5 L532.6 341.4 L534 341.7 L535.2 342.9 L536.4 344.2 L537.6 346 L539.7 343.9 L541.9 340.3 L543.3 345.3 L544.7 348.9 L546.2 349.8 L547.6 351.4 L549.5 353.4 L550 352.3 L552.2 350.1 L553.4 350.8 L554.7 351.6 L555.9 352.3 L557.4 353 L558.9 352.3 L560.2 348.8 L561.6 346.6 L562.9 350.4 L564.1 353.8 L565.3 354.6 L566.5 355.6 L567.7 356.6 L568.9 356.5 L570.1 357.5 L571.3 356.5 L572.6 355.1 L573.8 353.8 L576 350.8 L577.9 344.1 L579.4 350.8 L580.8 348.6 L582.7 355.3 L584.2 358 L585.7 360.5 L587.1 353.8 L588.9 349.3 L590.2 350.8 L591.6 353.8 L593 353.9 L594.3 353 L595.5 355.6 L596.8 356.7 L599 357.9 L600.2 357 L601.5 356.1 L602.7 355.6 L604.2 357.9 L605.7 359 L607 355.9 L608.4 353.8 L610.2 358.2 L611.7 356.9 L613.2 356.7 L614.6 353.5 L616.1 357.5 L617.6 356.7 L619.1 358.2 L620.6 360.5 L622.1 364.9 L623.3 364.7 L624.6 364.4 L625.8 363.9 L627.3 363.5 L628.7 363.2 L630.2 362.7 L631.7 363.2 L633.2 364.2 L635.4 360.5 L636.7 359.2 L637.9 357.4 L639.2 356 L640.7 355.5 L642.1 355 L643.6 355.7 L645.1 356.5 L646.6 357.5 L648.5 356"/>
<path class="c" d="M81.5 368.1 L82.8 367.8 L84 366.4 L85.3 365.7 L86.6 365.3 L88 366 L89.4 365.8 L90.9 366 L92.3 366.7 L93.5 367.3 L94.7 367.5 L95.9 368.1 L98 369.1 L99.5 368 L100.9 366 L102.3 365.5 L103.7 365.3 L105.2 366.9 L106.6 367.7 L108 367.4 L109.4 367.7 L110.9 367.9 L112.3 367.4 L113.6 367.9 L114.9 368.5 L116.1 368.6 L117.4 368 L118.7 368.9 L120.9 367.4 L122.2 367.7 L123.4 367.3 L124.7 367 L126 366.8 L127.2 367.4 L128.5 367 L129.8 367.4 L131 367.1 L132.3 366.7 L133.6 367.4 L134.8 367.2 L136.1 367.6 L137.3 367.8 L138.6 367.7 L139.8 368.5 L141.1 368.2 L142.3 368.6 L143.7 368.2 L145.2 367.7 L146.6 366.7 L148 367 L149.4 366.7 L150.9 367.5 L152.3 367.4 L153.5 367.4 L154.8 366.8 L156 366.6 L157.2 366.8 L158.4 366.3 L159.7 366.7 L160.9 366.3 L162.1 366.3 L163.3 366.2 L164.5 366.1 L165.8 366.2 L167 366.3 L168.2 365.9 L169.4 366 L170.6 366 L171.9 366.2 L173.1 366 L174.3 366.3 L175.5 366.3 L176.8 366.3 L178 366.4 L179.3 366.5 L180.5 366.4 L181.8 366.1 L183.1 366.7 L184.3 366.3 L185.6 366.3 L186.9 366.3 L188.1 366.6 L189.4 366.3 L190.6 366.5 L191.7 366.3 L192.9 366.2 L194.1 366.1 L195.2 366.5 L196.4 366.1 L197.6 366.3 L198.7 366.2 L199.9 366.2 L201.1 366.2 L202.3 366.1 L203.4 366 L204.6 366.3 L205.8 366.5 L206.9 366.4 L208.1 366.1 L209.3 366.4 L210.4 366 L211.6 366.3 L213.4 368.1 L215.1 366.7 L216.3 366.7 L217.6 366.9 L218.8 367 L220 366.8 L221.2 367 L222.5 366.9 L223.7 366.9 L224.9 367 L226.2 367.2 L227.4 367.1 L228.6 367 L229.8 367.2 L231.1 367.2 L232.3 367.1 L233.5 366.9 L234.8 367 L236 367 L237.2 366.7 L238.4 366.8 L239.7 366.1 L240.9 366.3 L242.3 366.2 L243.7 366.2 L245.1 366 L246.3 368.1 L247.5 366.8 L248.7 365.7 L249.9 365.5 L251 366 L252.2 365.9 L253.3 365.8 L254.5 365.8 L255.7 366.4 L256.8 366.1 L258 366.3 L259.3 366 L260.5 366 L261.8 366 L263.1 366.4 L264.3 365.9 L265.6 366 L266.9 365.8 L268.1 366 L269.4 366 L270 366.7 L271.4 366.5 L272.9 366.5 L274.3 366.7 L275.7 368 L277.1 368.9 L279.3 373.1 L281.4 373.9 L282.9 375.9 L284.3 376.3 L285.5 376.3 L286.7 374.3 L287.9 374.6 L289.1 374.2 L290.4 374.9 L291.6 373.2 L292.9 373.9 L294.1 372.2 L295.2 371.5 L296.4 370.3 L297.8 370.1 L299.3 370.8 L300.7 370.3 L302.1 371.9 L303.6 372.6 L305 373.9 L306.4 372.3 L307.9 371.7 L309.1 371.6 L310.2 372.1 L311.4 372.9 L312.8 371.3 L314.3 371.5 L315.7 370.3 L317.1 370.4 L318.6 371.7 L320 370.6 L321.4 368.1 L322.8 368.4 L324.3 367.3 L325.7 368.1 L327.1 368.9 L328.6 370 L330 370.6 L331.4 369.1 L332.9 369.2 L334.3 368.6 L335.5 367.4 L336.7 368.4 L337.9 366.8 L339 367.6 L340.2 367.9 L341.4 366.7 L342.8 366.7 L344.2 365.2 L345.7 365.2 L347.1 364.6 L348.3 363.7 L349.4 363.5 L350.6 363.7 L351.7 363.1 L352.9 362.4 L354.3 362.2 L355.7 362.8 L357.1 363.1 L358.5 363.8 L360 364 L361.4 364.9 L362 365.3 L363.4 366 L364.9 366.5 L366.3 366.7 L367.7 367.1 L368.9 366.5 L370.2 366.5 L371.4 365.8 L372.7 365.3 L373.9 365.1 L375.1 365.2 L376.3 365.2 L377.5 365.7 L378.6 365.5 L379.8 365.7 L381 365.8 L382.2 366 L383.4 365.7 L384.6 365.6 L385.7 365.8 L386.9 366.2 L388.1 366.2 L389.3 366.1 L390.4 366.3 L391.6 366.2 L392.8 366.2 L394 366.2 L395.1 366.5 L396.3 366.7 L397.5 366.5 L398.8 366.7 L400 367 L401.2 366.5 L402.4 366.7 L403.7 366.9 L404.9 366.7 L406.2 366.8 L407.5 366.7 L408.7 366.9 L410 366.4 L411.3 366.7 L412.7 368.1 L414.2 368.8 L415.6 369.6 L416.8 369.3 L417.9 368.7 L419.1 367.7 L420.5 367.9 L422 368.5 L423.4 369.6 L424.8 368.6 L426.3 368.3 L427.7 367.7 L429.1 368.4 L430.5 368.7 L432 368.5 L433.4 368.9 L434.6 369.4 L435.8 369.9 L437 370 L439 372 L440 372.7 L441.5 370.5 L443 368.9 L445.1 371 L446.5 373 L448 374.4 L449.4 374.9 L451.1 374 L452.4 376 L453.7 377.9 L455 378.7 L456.7 377 L458.4 379.1 L459.7 377 L461.4 378.7 L462.6 381.2 L463.8 382.6 L465.7 377.9 L467.4 380 L468.7 378.7 L470.4 381.3 L472.1 377.9 L474.3 376.6 L476 374.4 L477.3 374.5 L478.6 374 L479.8 368.4 L480.7 366.7 L482 368.9 L483.7 371.9 L485 371.6 L486.3 371.9 L488 375.3 L489.3 371.9 L490.6 370.1 L492.7 367.6 L494.9 369.7 L496.1 372.3 L497 376.6 L498.3 373.1 L500 371.4 L501.3 370.3 L502.6 370 L504.3 374.3 L506.1 370.7 L507.6 370.2 L509 370.7 L510 377.1 L511.1 382.6 L512.1 372.9 L513.4 371.4 L514.7 371.4 L516.9 377.1 L518.3 380.7 L519.7 376.4 L521.1 370.7 L522.5 371.8 L524 371.4 L525.5 372.1 L526.9 373.6 L528.3 372.7 L529.7 373.6 L531.9 372.1 L534 374.3 L535.5 372.9 L536.9 372.1 L538.3 372.1 L539.7 373.6 L541.9 375.7 L544 370.7 L545.5 370.3 L546.9 370 L548.3 369 L549.7 368.6 L551 370.3 L552.2 370.9 L553.4 369.5 L554.7 369.1 L555.9 368.3 L557.1 368.1 L558.3 367.9 L559.5 368.6 L560.7 367.6 L561.9 367.9 L563.2 368.1 L564.4 368.7 L565.7 369 L567 368.3 L568.3 368 L569.5 369.3 L570.8 368.9 L572 370.1 L573.3 370.7 L574.5 372.3 L576 370.8 L577.9 375.3 L579.7 371.6 L581.2 369.6 L582.7 368.9 L584.2 367.4 L585.7 366.4 L587.9 370.1 L589.2 369.8 L590.6 369.6 L591.9 369.6 L593.3 371.1 L594.6 370.4 L596.1 370.3 L597.5 368.7 L599 368.6 L600.2 368.5 L601.3 368.9 L602.5 368.5 L603.6 367.9 L604.8 368.2 L605.9 368.3 L607.1 368.9 L608.2 368.5 L609.4 368.3 L610.6 368.3 L611.8 368.6 L613 367.9 L614.2 368.8 L615.4 368.6 L616.9 368.2 L618.3 367.3 L619.8 366.4 L621.3 366 L622.8 365.7 L624 365.6 L625.2 365.5 L626.4 365.6 L627.6 365.7 L628.8 366 L630.3 365.9 L631.7 366 L633.2 365.7 L634.7 366.6 L636.2 367.9 L637.7 368.8 L639.2 369.8 L640.4 369.9 L641.6 369.8 L642.7 368.9 L643.9 370.1 L645.1 369.4 L646.8 369.1 L648.5 368.6"/>
<rect x="81.2" y="234" width="567.7" height="6.75" fill="#ff2200" stroke="#d81c00" stroke-opacity="0.55" stroke-width="0.6"/>
<rect x="81.2" y="234" width="567.7" height="6.75" fill="url(#st)"/>
<text class="big" x="82" y="21.5" style="letter-spacing:-0.18px">2026/01/15</text>
<text class="big" x="234.9" y="21.5">AE(11) (Real-Time)</text>
<text class="sm" x="648" y="21.8" text-anchor="end">WDC for Geomagnetism, Kyoto</text>
<text class="sm" x="649.8" y="444" text-anchor="end" style="letter-spacing:0.35px">[Created at 2026-01-16 04:40UT]</text>
<text class="big lab" x="11.6" y="69.5">AU</text>
<text class="big lab" x="11.6" y="120.8">AL</text>
<text class="big lab" x="11.6" y="346">AE</text>
<text class="big lab" x="11.6" y="388.8">AO</text>
<text class="ay" x="75.3" y="31" text-anchor="end">1000</text>
<text class="ay" x="75.3" y="59" text-anchor="end">500</text>
<text class="ay" x="75.3" y="88" text-anchor="end">0</text>
<text class="ay" x="75.3" y="116" text-anchor="end">- 500</text>
<text class="ay" x="75.3" y="144" text-anchor="end">- 1000</text>
<text class="ay" x="75.3" y="173" text-anchor="end">- 1500</text>
<text class="ay" x="75.3" y="201" text-anchor="end">- 2000</text>
<text class="ay" x="75.3" y="258" text-anchor="end">2000</text>
<text class="ay" x="75.3" y="286" text-anchor="end">1500</text>
<text class="ay" x="75.3" y="314" text-anchor="end">1000</text>
<text class="ay" x="75.3" y="343" text-anchor="end">500</text>
<text class="ay" x="75.3" y="371" text-anchor="end">0</text>
<text class="ay" x="75.3" y="399.4" text-anchor="end">- 500</text>
<text class="nt" x="76.2" y="42.5" text-anchor="end">(nT)</text>
<text class="nt" x="76.2" y="269.5" text-anchor="end">(nT)</text>
<text class="ax" x="81.2" y="207.7" text-anchor="middle" style="letter-spacing:0.6px">00</text>
<text class="ax" x="223.2" y="207.7" text-anchor="middle" style="letter-spacing:0.6px">06</text>
<text class="ax" x="365.2" y="207.7" text-anchor="middle" style="letter-spacing:0.6px">12</text>
<text class="ax" x="506.2" y="207.7" text-anchor="middle" style="letter-spacing:0.6px">18</text>
<text class="ax" x="648.2" y="207.7" text-anchor="middle" style="letter-spacing:0.6px">24</text>
<text class="ut" x="365.2" y="221.8" text-anchor="middle">U T</text>
<text class="ax" x="81.2" y="406.5" text-anchor="middle" style="letter-spacing:0.6px">00</text>
<text class="ax" x="223.2" y="406.5" text-anchor="middle" style="letter-spacing:0.6px">06</text>
<text class="ax" x="365.2" y="406.5" text-anchor="middle" style="letter-spacing:0.6px">12</text>
<text class="ax" x="506.2" y="406.5" text-anchor="middle" style="letter-spacing:0.6px">18</text>
<text class="ax" x="648.2" y="406.5" text-anchor="middle" style="letter-spacing:0.6px">24</text>
<text class="ut" x="365.2" y="420.9" text-anchor="middle">U T</text>
<text class="ax" x="670.5" y="197.9" text-anchor="end" style="fill:#cccccc;stroke:#cccccc">1</text>
<text class="ax" x="670.5" y="185.8" text-anchor="end" style="fill:#555555;stroke:#555555">2</text>
<text class="ax" x="670.5" y="173.7" text-anchor="end" style="fill:#000000;stroke:#000000">3</text>
<text class="ax" x="670.5" y="161.7" text-anchor="end" style="fill:#ff00ee;stroke:#ff00ee">4</text>
<text class="ax" x="670.5" y="149.6" text-anchor="end" style="fill:#3300ff;stroke:#3300ff">5</text>
<text class="ax" x="670.5" y="137.5" text-anchor="end" style="fill:#0066ff;stroke:#0066ff">6</text>
<text class="ax" x="670.5" y="125.4" text-anchor="end" style="fill:#00ffcc;stroke:#00ffcc">7</text>
<text class="ax" x="670.5" y="113.3" text-anchor="end" style="fill:#80ff00;stroke:#80ff00">8</text>
<text class="ax" x="670.5" y="101.3" text-anchor="end" style="fill:#ffee00;stroke:#ffee00">9</text>
<text class="ax" x="670.5" y="89.2" text-anchor="end" style="fill:#ff9500;stroke:#ff9500">10</text>
<text class="ax" x="670.5" y="77.1" text-anchor="end" style="fill:#ff2a00;stroke:#ff2a00">11</text>
<text class="ax" x="670.5" y="65" text-anchor="end" style="fill:#ff1a8c;stroke:#ff1a8c">12</text>
<text class="ax" x="670.5" y="396" text-anchor="end" style="fill:#cccccc;stroke:#cccccc">1</text>
<text class="ax" x="670.5" y="383.9" text-anchor="end" style="fill:#555555;stroke:#555555">2</text>
<text class="ax" x="670.5" y="371.8" text-anchor="end" style="fill:#000000;stroke:#000000">3</text>
<text class="ax" x="670.5" y="359.7" text-anchor="end" style="fill:#ff00ee;stroke:#ff00ee">4</text>
<text class="ax" x="670.5" y="347.6" text-anchor="end" style="fill:#3300ff;stroke:#3300ff">5</text>
<text class="ax" x="670.5" y="335.5" text-anchor="end" style="fill:#0066ff;stroke:#0066ff">6</text>
<text class="ax" x="670.5" y="323.4" text-anchor="end" style="fill:#00ffcc;stroke:#00ffcc">7</text>
<text class="ax" x="670.5" y="311.3" text-anchor="end" style="fill:#80ff00;stroke:#80ff00">8</text>
<text class="ax" x="670.5" y="299.2" text-anchor="end" style="fill:#ffee00;stroke:#ffee00">9</text>
<text class="ax" x="670.5" y="287.1" text-anchor="end" style="fill:#ff9500;stroke:#ff9500">10</text>
<text class="ax" x="670.5" y="275" text-anchor="end" style="fill:#ff2a00;stroke:#ff2a00">11</text>
<text class="ax" x="670.5" y="262.9" text-anchor="end" style="fill:#ff1a8c;stroke:#ff1a8c">12</text>
</svg>
</body>
</html>
